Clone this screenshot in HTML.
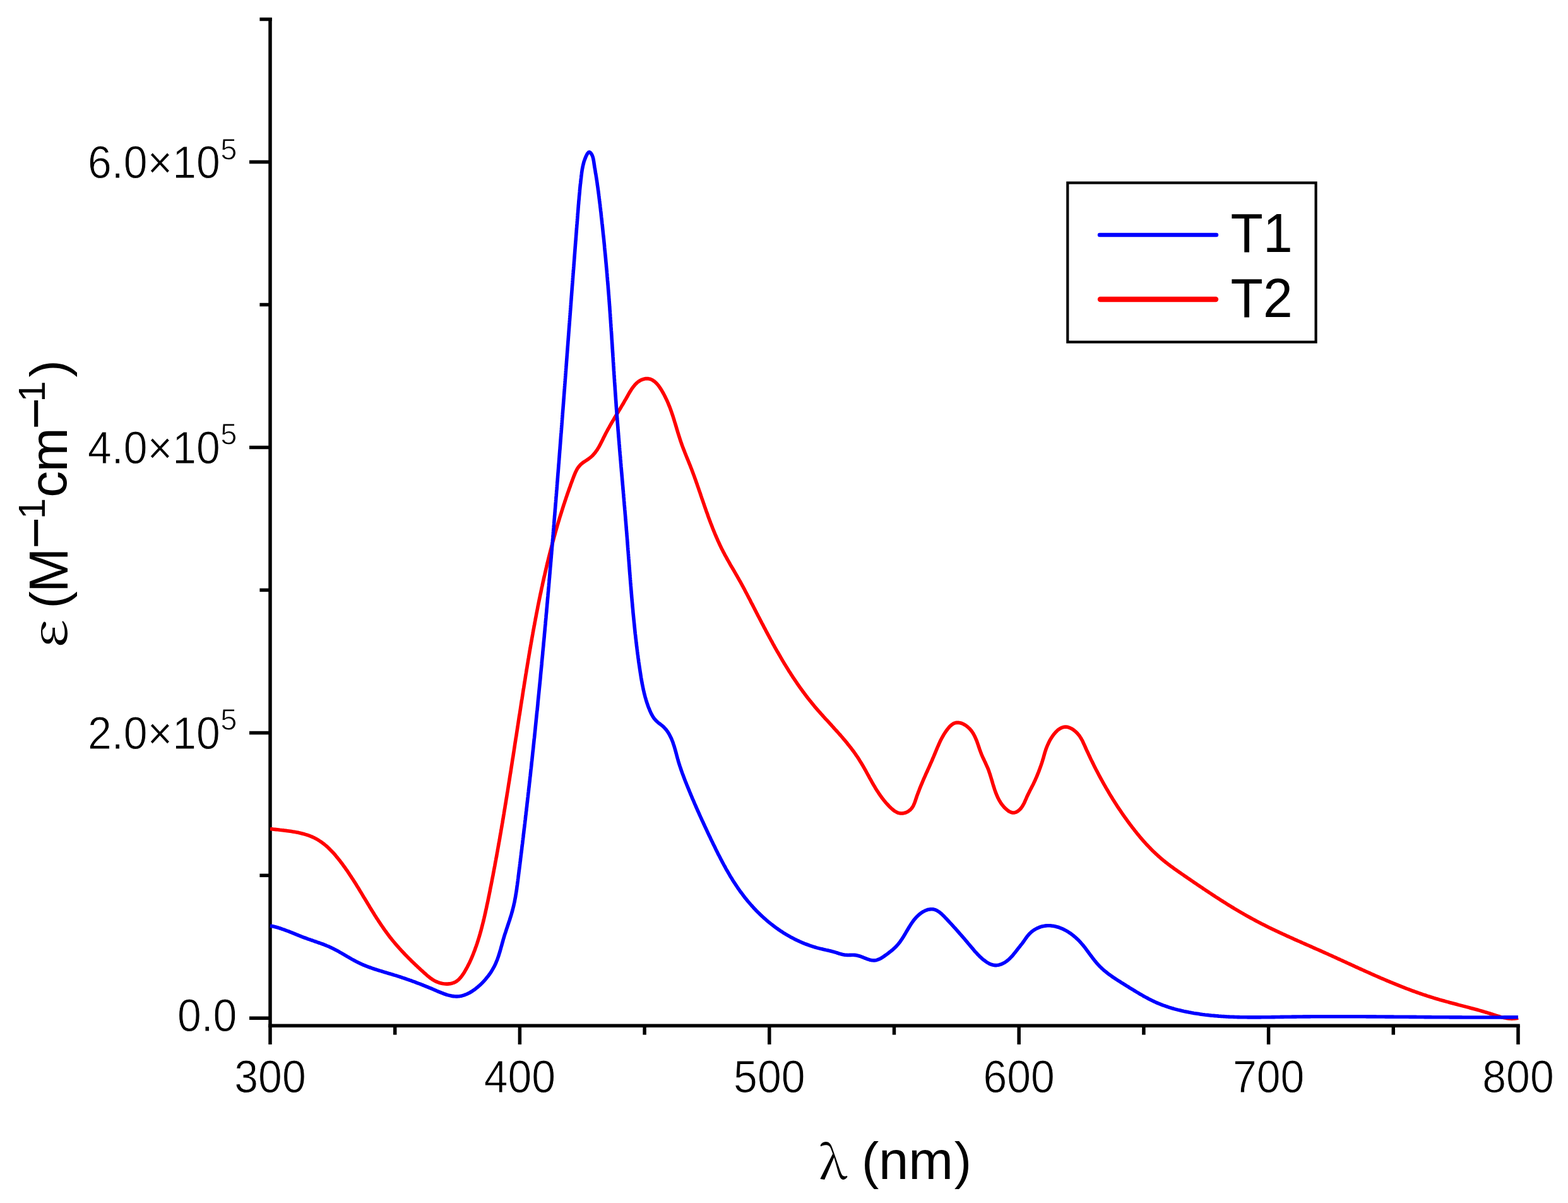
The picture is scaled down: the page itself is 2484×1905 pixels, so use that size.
<!DOCTYPE html>
<html><head><meta charset="utf-8"><style>
html,body{margin:0;padding:0;background:#fff;}
svg{display:block;}
</style></head><body>
<svg xmlns="http://www.w3.org/2000/svg" width="2484" height="1905" viewBox="0 0 2484 1905">
<rect width="2484" height="1905" fill="#fff"/>
<g font-family="Liberation Sans, Arial, sans-serif" fill="#000">
<line x1="428.0" y1="28.3" x2="428.0" y2="1627.0" stroke="#000" stroke-width="5.5"/>
<line x1="425.2" y1="1624.2" x2="2407.8" y2="1624.2" stroke="#000" stroke-width="5.5"/>
<line x1="395.0" y1="1612.3" x2="428.0" y2="1612.3" stroke="#000" stroke-width="5.5"/>
<line x1="411.4" y1="1386.3" x2="428.0" y2="1386.3" stroke="#000" stroke-width="5.5"/>
<line x1="395.0" y1="1160.4" x2="428.0" y2="1160.4" stroke="#000" stroke-width="5.5"/>
<line x1="411.4" y1="934.4" x2="428.0" y2="934.4" stroke="#000" stroke-width="5.5"/>
<line x1="395.0" y1="708.4" x2="428.0" y2="708.4" stroke="#000" stroke-width="5.5"/>
<line x1="411.4" y1="482.5" x2="428.0" y2="482.5" stroke="#000" stroke-width="5.5"/>
<line x1="395.0" y1="256.5" x2="428.0" y2="256.5" stroke="#000" stroke-width="5.5"/>
<line x1="411.4" y1="30.5" x2="430.8" y2="30.5" stroke="#000" stroke-width="5.5"/>
<line x1="428.0" y1="1624.2" x2="428.0" y2="1653.9" stroke="#000" stroke-width="5.5"/>
<line x1="625.7" y1="1624.2" x2="625.7" y2="1638.6" stroke="#000" stroke-width="5.5"/>
<line x1="823.4" y1="1624.2" x2="823.4" y2="1653.9" stroke="#000" stroke-width="5.5"/>
<line x1="1021.1" y1="1624.2" x2="1021.1" y2="1638.6" stroke="#000" stroke-width="5.5"/>
<line x1="1218.8" y1="1624.2" x2="1218.8" y2="1653.9" stroke="#000" stroke-width="5.5"/>
<line x1="1416.5" y1="1624.2" x2="1416.5" y2="1638.6" stroke="#000" stroke-width="5.5"/>
<line x1="1614.2" y1="1624.2" x2="1614.2" y2="1653.9" stroke="#000" stroke-width="5.5"/>
<line x1="1811.9" y1="1624.2" x2="1811.9" y2="1638.6" stroke="#000" stroke-width="5.5"/>
<line x1="2009.6" y1="1624.2" x2="2009.6" y2="1653.9" stroke="#000" stroke-width="5.5"/>
<line x1="2207.3" y1="1624.2" x2="2207.3" y2="1638.6" stroke="#000" stroke-width="5.5"/>
<line x1="2405.0" y1="1624.2" x2="2405.0" y2="1653.9" stroke="#000" stroke-width="5.5"/>
<path d="M428.0,1312.5 L429.9,1312.7 L431.8,1312.9 L433.7,1313.2 L435.6,1313.4 L437.5,1313.6 L439.5,1313.8 L441.5,1314.0 L443.4,1314.3 L445.4,1314.5 L447.4,1314.7 L449.5,1314.9 L451.5,1315.2 L453.5,1315.4 L455.5,1315.7 L457.6,1316.0 L459.6,1316.3 L461.6,1316.6 L463.7,1316.9 L465.7,1317.2 L467.7,1317.6 L469.7,1317.9 L471.8,1318.3 L473.8,1318.8 L475.8,1319.2 L477.7,1319.7 L479.7,1320.2 L481.7,1320.7 L483.6,1321.3 L485.5,1321.9 L487.5,1322.5 L489.3,1323.2 L491.2,1323.9 L493.1,1324.6 L494.9,1325.4 L496.7,1326.2 L498.5,1327.1 L500.2,1328.0 L501.9,1328.9 L503.6,1329.9 L505.3,1331.0 L506.9,1332.0 L508.5,1333.1 L510.1,1334.3 L511.7,1335.4 L513.3,1336.6 L514.8,1337.9 L516.3,1339.1 L517.8,1340.4 L519.3,1341.8 L520.7,1343.1 L522.1,1344.5 L523.5,1345.9 L524.9,1347.3 L526.3,1348.8 L527.7,1350.2 L529.0,1351.7 L530.3,1353.2 L531.6,1354.7 L532.9,1356.3 L534.2,1357.8 L535.5,1359.4 L536.7,1360.9 L538.0,1362.5 L539.2,1364.1 L540.4,1365.7 L541.6,1367.3 L542.8,1368.9 L544.0,1370.6 L545.2,1372.2 L546.4,1373.8 L547.5,1375.5 L548.7,1377.1 L549.8,1378.7 L551.0,1380.4 L552.1,1382.1 L553.2,1383.7 L554.3,1385.4 L555.4,1387.1 L556.5,1388.7 L557.6,1390.4 L558.7,1392.1 L559.8,1393.8 L560.9,1395.5 L561.9,1397.1 L563.0,1398.8 L564.1,1400.5 L565.1,1402.2 L566.2,1403.9 L567.2,1405.6 L568.3,1407.3 L569.3,1409.0 L570.3,1410.7 L571.4,1412.4 L572.4,1414.1 L573.5,1415.9 L574.5,1417.6 L575.5,1419.3 L576.5,1421.0 L577.6,1422.7 L578.6,1424.4 L579.6,1426.1 L580.7,1427.8 L581.7,1429.5 L582.7,1431.2 L583.8,1432.9 L584.8,1434.6 L585.8,1436.4 L586.9,1438.1 L587.9,1439.8 L588.9,1441.4 L590.0,1443.1 L591.0,1444.8 L592.1,1446.5 L593.1,1448.2 L594.2,1449.9 L595.3,1451.6 L596.3,1453.3 L597.4,1454.9 L598.5,1456.6 L599.6,1458.3 L600.7,1459.9 L601.8,1461.6 L602.9,1463.2 L604.0,1464.9 L605.1,1466.5 L606.3,1468.2 L607.4,1469.8 L608.5,1471.4 L609.7,1473.1 L610.9,1474.7 L612.0,1476.3 L613.2,1477.9 L614.4,1479.5 L615.6,1481.1 L616.8,1482.7 L618.0,1484.3 L619.3,1485.8 L620.5,1487.4 L621.8,1489.0 L623.0,1490.5 L624.3,1492.0 L625.6,1493.6 L626.9,1495.1 L628.2,1496.6 L629.5,1498.1 L630.9,1499.7 L632.2,1501.2 L633.5,1502.6 L634.9,1504.1 L636.3,1505.6 L637.6,1507.1 L639.0,1508.5 L640.4,1510.0 L641.8,1511.5 L643.2,1512.9 L644.6,1514.3 L646.0,1515.8 L647.4,1517.2 L648.8,1518.6 L650.3,1520.0 L651.7,1521.5 L653.1,1522.9 L654.6,1524.3 L656.0,1525.6 L657.5,1527.0 L658.9,1528.4 L660.4,1529.8 L661.8,1531.1 L663.3,1532.5 L664.8,1533.9 L666.2,1535.2 L667.7,1536.6 L669.2,1537.9 L670.6,1539.2 L672.1,1540.6 L673.6,1541.9 L675.1,1543.2 L676.5,1544.5 L678.0,1545.8 L679.6,1547.0 L681.1,1548.2 L682.7,1549.4 L684.3,1550.5 L685.9,1551.6 L687.6,1552.6 L689.3,1553.5 L691.1,1554.4 L693.0,1555.2 L694.9,1555.9 L696.8,1556.5 L698.9,1557.1 L700.9,1557.5 L703.0,1557.8 L705.1,1558.0 L707.2,1558.1 L709.3,1558.1 L711.4,1557.9 L713.4,1557.7 L715.4,1557.3 L717.3,1556.7 L719.1,1556.1 L720.8,1555.3 L722.5,1554.3 L724.0,1553.3 L725.5,1552.1 L727.0,1550.8 L728.3,1549.4 L729.6,1548.0 L730.8,1546.5 L732.0,1544.9 L733.2,1543.2 L734.3,1541.6 L735.4,1539.9 L736.4,1538.1 L737.4,1536.4 L738.4,1534.6 L739.4,1532.8 L740.4,1531.1 L741.3,1529.3 L742.2,1527.5 L743.1,1525.7 L744.0,1523.9 L744.8,1522.1 L745.7,1520.2 L746.5,1518.4 L747.3,1516.6 L748.1,1514.7 L748.8,1512.9 L749.6,1511.0 L750.3,1509.1 L751.0,1507.3 L751.8,1505.4 L752.5,1503.5 L753.1,1501.6 L753.8,1499.8 L754.5,1497.9 L755.1,1496.0 L755.8,1494.1 L756.4,1492.2 L757.0,1490.3 L757.6,1488.4 L758.2,1486.5 L758.8,1484.5 L759.4,1482.6 L759.9,1480.7 L760.5,1478.8 L761.0,1476.9 L761.6,1474.9 L762.1,1473.0 L762.6,1471.1 L763.1,1469.2 L763.6,1467.2 L764.1,1465.3 L764.6,1463.4 L765.1,1461.4 L765.6,1459.5 L766.1,1457.5 L766.5,1455.6 L767.0,1453.6 L767.4,1451.7 L767.9,1449.7 L768.3,1447.8 L768.8,1445.8 L769.2,1443.9 L769.6,1441.9 L770.1,1440.0 L770.5,1438.0 L770.9,1436.1 L771.3,1434.1 L771.7,1432.1 L772.2,1430.2 L772.6,1428.2 L773.0,1426.3 L773.4,1424.3 L773.8,1422.3 L774.2,1420.4 L774.6,1418.4 L775.0,1416.5 L775.4,1414.5 L775.8,1412.5 L776.2,1410.6 L776.5,1408.6 L776.9,1406.7 L777.3,1404.7 L777.7,1402.7 L778.1,1400.8 L778.5,1398.8 L778.9,1396.8 L779.3,1394.9 L779.6,1392.9 L780.0,1391.0 L780.4,1389.0 L780.8,1387.0 L781.2,1385.1 L781.5,1383.1 L781.9,1381.1 L782.3,1379.2 L782.6,1377.2 L783.0,1375.3 L783.4,1373.3 L783.8,1371.3 L784.1,1369.4 L784.5,1367.4 L784.8,1365.4 L785.2,1363.5 L785.6,1361.5 L785.9,1359.5 L786.3,1357.6 L786.7,1355.6 L787.0,1353.6 L787.4,1351.7 L787.7,1349.7 L788.1,1347.7 L788.4,1345.8 L788.8,1343.8 L789.1,1341.8 L789.5,1339.9 L789.8,1337.9 L790.2,1335.9 L790.5,1334.0 L790.9,1332.0 L791.2,1330.0 L791.6,1328.1 L791.9,1326.1 L792.2,1324.1 L792.6,1322.2 L792.9,1320.2 L793.3,1318.2 L793.6,1316.3 L793.9,1314.3 L794.3,1312.3 L794.6,1310.4 L795.0,1308.4 L795.3,1306.4 L795.6,1304.5 L796.0,1302.5 L796.3,1300.5 L796.6,1298.5 L797.0,1296.6 L797.3,1294.6 L797.6,1292.6 L797.9,1290.7 L798.3,1288.7 L798.6,1286.7 L798.9,1284.8 L799.2,1282.8 L799.6,1280.8 L799.9,1278.8 L800.2,1276.9 L800.5,1274.9 L800.9,1272.9 L801.2,1271.0 L801.5,1269.0 L801.8,1267.0 L802.1,1265.1 L802.5,1263.1 L802.8,1261.1 L803.1,1259.1 L803.4,1257.2 L803.7,1255.2 L804.1,1253.2 L804.4,1251.2 L804.7,1249.3 L805.0,1247.3 L805.3,1245.3 L805.6,1243.4 L805.9,1241.4 L806.3,1239.4 L806.6,1237.4 L806.9,1235.5 L807.2,1233.5 L807.5,1231.5 L807.8,1229.5 L808.1,1227.6 L808.4,1225.6 L808.8,1223.6 L809.1,1221.7 L809.4,1219.7 L809.7,1217.7 L810.0,1215.7 L810.3,1213.8 L810.6,1211.8 L810.9,1209.8 L811.2,1207.8 L811.5,1205.9 L811.8,1203.9 L812.1,1201.9 L812.5,1199.9 L812.8,1198.0 L813.1,1196.0 L813.4,1194.0 L813.7,1192.0 L814.0,1190.1 L814.3,1188.1 L814.6,1186.1 L814.9,1184.1 L815.2,1182.2 L815.5,1180.2 L815.8,1178.2 L816.1,1176.2 L816.4,1174.3 L816.7,1172.3 L817.0,1170.3 L817.3,1168.3 L817.7,1166.4 L818.0,1164.4 L818.3,1162.4 L818.6,1160.4 L818.9,1158.4 L819.2,1156.5 L819.5,1154.5 L819.8,1152.5 L820.1,1150.5 L820.4,1148.6 L820.7,1146.6 L821.0,1144.6 L821.3,1142.6 L821.6,1140.7 L821.9,1138.7 L822.2,1136.7 L822.5,1134.7 L822.8,1132.7 L823.2,1130.8 L823.5,1128.8 L823.8,1126.8 L824.1,1124.8 L824.4,1122.9 L824.7,1120.9 L825.0,1118.9 L825.3,1116.9 L825.6,1114.9 L825.9,1113.0 L826.2,1111.0 L826.5,1109.0 L826.9,1107.0 L827.2,1105.1 L827.5,1103.1 L827.8,1101.1 L828.1,1099.1 L828.4,1097.1 L828.7,1095.2 L829.0,1093.2 L829.3,1091.2 L829.7,1089.2 L830.0,1087.2 L830.3,1085.3 L830.6,1083.3 L830.9,1081.3 L831.2,1079.3 L831.6,1077.4 L831.9,1075.4 L832.2,1073.4 L832.5,1071.4 L832.8,1069.4 L833.1,1067.5 L833.5,1065.5 L833.8,1063.5 L834.1,1061.5 L834.4,1059.5 L834.8,1057.6 L835.1,1055.6 L835.4,1053.6 L835.7,1051.6 L836.1,1049.7 L836.4,1047.7 L836.7,1045.7 L837.0,1043.7 L837.4,1041.7 L837.7,1039.8 L838.0,1037.8 L838.4,1035.8 L838.7,1033.8 L839.0,1031.9 L839.4,1029.9 L839.7,1027.9 L840.1,1025.9 L840.4,1024.0 L840.7,1022.0 L841.1,1020.0 L841.4,1018.0 L841.8,1016.1 L842.1,1014.1 L842.5,1012.1 L842.8,1010.1 L843.2,1008.2 L843.5,1006.2 L843.9,1004.2 L844.2,1002.2 L844.6,1000.3 L844.9,998.3 L845.3,996.3 L845.7,994.4 L846.0,992.4 L846.4,990.4 L846.8,988.5 L847.1,986.5 L847.5,984.5 L847.9,982.5 L848.2,980.6 L848.6,978.6 L849.0,976.6 L849.4,974.7 L849.7,972.7 L850.1,970.7 L850.5,968.8 L850.9,966.8 L851.3,964.8 L851.7,962.9 L852.0,960.9 L852.4,959.0 L852.8,957.0 L853.2,955.0 L853.6,953.1 L854.0,951.1 L854.4,949.1 L854.8,947.2 L855.2,945.2 L855.6,943.3 L856.0,941.3 L856.5,939.3 L856.9,937.4 L857.3,935.4 L857.7,933.5 L858.1,931.5 L858.5,929.6 L859.0,927.6 L859.4,925.7 L859.8,923.7 L860.2,921.8 L860.7,919.8 L861.1,917.9 L861.5,915.9 L862.0,914.0 L862.4,912.0 L862.9,910.1 L863.3,908.1 L863.8,906.2 L864.2,904.2 L864.7,902.3 L865.1,900.3 L865.6,898.4 L866.0,896.4 L866.5,894.5 L867.0,892.5 L867.4,890.6 L867.9,888.7 L868.4,886.7 L868.9,884.8 L869.4,882.8 L869.8,880.9 L870.3,879.0 L870.8,877.0 L871.3,875.1 L871.8,873.2 L872.3,871.2 L872.8,869.3 L873.3,867.4 L873.8,865.4 L874.3,863.5 L874.8,861.6 L875.3,859.7 L875.8,857.7 L876.4,855.8 L876.9,853.9 L877.4,852.0 L877.9,850.0 L878.5,848.1 L879.0,846.2 L879.5,844.3 L880.1,842.3 L880.6,840.4 L881.2,838.5 L881.7,836.6 L882.3,834.7 L882.8,832.8 L883.4,830.8 L884.0,828.9 L884.5,827.0 L885.1,825.1 L885.7,823.2 L886.2,821.3 L886.8,819.4 L887.4,817.5 L888.0,815.6 L888.6,813.7 L889.2,811.8 L889.8,809.9 L890.4,808.0 L891.0,806.1 L891.6,804.2 L892.2,802.3 L892.8,800.4 L893.4,798.5 L894.1,796.6 L894.7,794.7 L895.3,792.8 L896.0,790.9 L896.6,789.0 L897.2,787.1 L897.9,785.2 L898.5,783.3 L899.2,781.5 L899.8,779.6 L900.5,777.7 L901.2,775.8 L901.8,773.9 L902.5,772.1 L903.2,770.2 L903.8,768.3 L904.5,766.4 L905.2,764.6 L905.9,762.7 L906.6,760.8 L907.3,758.9 L908.0,757.1 L908.7,755.2 L909.4,753.3 L910.2,751.5 L910.9,749.7 L911.7,747.8 L912.6,746.1 L913.5,744.3 L914.4,742.6 L915.5,740.9 L916.6,739.3 L917.9,737.8 L919.2,736.3 L920.7,734.9 L922.2,733.6 L923.9,732.4 L925.7,731.1 L927.4,730.0 L929.3,728.8 L931.0,727.6 L932.8,726.4 L934.4,725.1 L936.0,723.8 L937.5,722.5 L939.0,721.1 L940.3,719.6 L941.6,718.1 L942.9,716.6 L944.0,715.0 L945.2,713.4 L946.3,711.8 L947.3,710.1 L948.4,708.4 L949.4,706.6 L950.3,704.9 L951.3,703.1 L952.2,701.2 L953.2,699.4 L954.1,697.5 L955.0,695.7 L955.9,693.8 L956.8,692.0 L957.8,690.1 L958.7,688.3 L959.6,686.5 L960.5,684.8 L961.5,683.0 L962.4,681.2 L963.4,679.5 L964.3,677.8 L965.3,676.1 L966.2,674.4 L967.2,672.7 L968.2,671.0 L969.1,669.3 L970.1,667.7 L971.1,666.0 L972.1,664.4 L973.0,662.7 L974.0,661.1 L975.0,659.4 L976.0,657.8 L977.0,656.1 L978.0,654.5 L979.0,652.8 L980.0,651.1 L981.0,649.5 L982.1,647.8 L983.1,646.1 L984.1,644.4 L985.1,642.7 L986.1,641.0 L987.2,639.2 L988.2,637.5 L989.2,635.7 L990.2,633.9 L991.3,632.1 L992.3,630.3 L993.4,628.5 L994.4,626.6 L995.5,624.7 L996.5,622.9 L997.6,621.0 L998.7,619.2 L999.9,617.4 L1001.0,615.6 L1002.2,613.9 L1003.5,612.3 L1004.8,610.7 L1006.1,609.1 L1007.5,607.7 L1008.9,606.3 L1010.4,605.0 L1012.0,603.9 L1013.7,602.8 L1015.4,601.9 L1017.2,601.1 L1019.1,600.5 L1021.0,600.0 L1022.9,599.6 L1024.8,599.5 L1026.6,599.6 L1028.4,599.9 L1030.2,600.3 L1031.8,601.0 L1033.5,601.8 L1035.0,602.8 L1036.6,603.9 L1038.0,605.1 L1039.5,606.5 L1040.8,607.9 L1042.2,609.5 L1043.5,611.1 L1044.7,612.8 L1045.9,614.6 L1047.1,616.4 L1048.2,618.2 L1049.3,620.1 L1050.4,622.0 L1051.4,623.8 L1052.4,625.7 L1053.4,627.6 L1054.3,629.5 L1055.2,631.4 L1056.1,633.2 L1057.0,635.1 L1057.8,637.0 L1058.6,638.9 L1059.4,640.8 L1060.1,642.7 L1060.9,644.5 L1061.6,646.4 L1062.3,648.3 L1063.0,650.2 L1063.7,652.1 L1064.3,654.0 L1064.9,655.8 L1065.6,657.7 L1066.2,659.6 L1066.8,661.5 L1067.4,663.4 L1068.0,665.3 L1068.5,667.1 L1069.1,669.0 L1069.7,670.9 L1070.3,672.8 L1070.8,674.7 L1071.4,676.5 L1071.9,678.4 L1072.5,680.3 L1073.1,682.2 L1073.6,684.1 L1074.2,685.9 L1074.8,687.8 L1075.4,689.7 L1076.0,691.6 L1076.6,693.4 L1077.2,695.3 L1077.8,697.2 L1078.4,699.1 L1079.1,700.9 L1079.7,702.8 L1080.4,704.7 L1081.1,706.6 L1081.8,708.4 L1082.5,710.3 L1083.2,712.2 L1084.0,714.0 L1084.7,715.9 L1085.4,717.8 L1086.2,719.6 L1086.9,721.5 L1087.7,723.4 L1088.4,725.2 L1089.2,727.1 L1090.0,729.0 L1090.7,730.8 L1091.5,732.7 L1092.2,734.6 L1093.0,736.4 L1093.7,738.3 L1094.4,740.1 L1095.2,742.0 L1095.9,743.9 L1096.6,745.7 L1097.3,747.6 L1098.0,749.5 L1098.7,751.4 L1099.4,753.2 L1100.1,755.1 L1100.7,757.0 L1101.4,758.8 L1102.1,760.7 L1102.7,762.6 L1103.4,764.4 L1104.1,766.3 L1104.7,768.2 L1105.4,770.1 L1106.0,771.9 L1106.7,773.8 L1107.3,775.7 L1108.0,777.6 L1108.6,779.4 L1109.3,781.3 L1109.9,783.2 L1110.5,785.1 L1111.2,787.0 L1111.8,788.9 L1112.5,790.7 L1113.1,792.6 L1113.8,794.5 L1114.4,796.4 L1115.1,798.3 L1115.7,800.2 L1116.4,802.1 L1117.0,804.0 L1117.7,805.9 L1118.4,807.8 L1119.0,809.6 L1119.7,811.5 L1120.4,813.4 L1121.1,815.3 L1121.7,817.2 L1122.4,819.1 L1123.1,821.0 L1123.8,822.9 L1124.5,824.8 L1125.2,826.6 L1125.9,828.5 L1126.7,830.4 L1127.4,832.3 L1128.1,834.1 L1128.8,836.0 L1129.6,837.9 L1130.3,839.7 L1131.1,841.6 L1131.9,843.5 L1132.6,845.3 L1133.4,847.2 L1134.2,849.0 L1135.0,850.9 L1135.8,852.7 L1136.6,854.5 L1137.4,856.4 L1138.3,858.2 L1139.1,860.0 L1139.9,861.8 L1140.8,863.7 L1141.7,865.5 L1142.5,867.3 L1143.4,869.1 L1144.3,870.8 L1145.2,872.6 L1146.1,874.4 L1147.1,876.2 L1148.0,877.9 L1148.9,879.7 L1149.9,881.4 L1150.9,883.2 L1151.8,884.9 L1152.8,886.7 L1153.8,888.4 L1154.8,890.1 L1155.8,891.9 L1156.7,893.6 L1157.7,895.3 L1158.7,897.1 L1159.8,898.8 L1160.8,900.5 L1161.8,902.2 L1162.8,903.9 L1163.8,905.7 L1164.8,907.4 L1165.8,909.1 L1166.8,910.8 L1167.8,912.5 L1168.8,914.3 L1169.8,916.0 L1170.7,917.7 L1171.7,919.5 L1172.7,921.2 L1173.7,922.9 L1174.6,924.7 L1175.6,926.4 L1176.5,928.2 L1177.5,929.9 L1178.4,931.7 L1179.4,933.4 L1180.3,935.2 L1181.2,937.0 L1182.1,938.7 L1183.1,940.5 L1184.0,942.3 L1184.9,944.0 L1185.8,945.8 L1186.8,947.6 L1187.7,949.3 L1188.6,951.1 L1189.5,952.9 L1190.4,954.7 L1191.3,956.4 L1192.3,958.2 L1193.2,960.0 L1194.1,961.8 L1195.0,963.5 L1195.9,965.3 L1196.8,967.1 L1197.8,968.9 L1198.7,970.7 L1199.6,972.4 L1200.5,974.2 L1201.4,976.0 L1202.4,977.8 L1203.3,979.6 L1204.2,981.3 L1205.1,983.1 L1206.1,984.9 L1207.0,986.7 L1207.9,988.4 L1208.9,990.2 L1209.8,992.0 L1210.7,993.8 L1211.7,995.5 L1212.6,997.3 L1213.5,999.1 L1214.5,1000.9 L1215.4,1002.6 L1216.4,1004.4 L1217.3,1006.2 L1218.3,1007.9 L1219.2,1009.7 L1220.2,1011.5 L1221.1,1013.2 L1222.1,1015.0 L1223.1,1016.7 L1224.0,1018.5 L1225.0,1020.3 L1226.0,1022.0 L1226.9,1023.8 L1227.9,1025.5 L1228.9,1027.3 L1229.9,1029.0 L1230.9,1030.8 L1231.9,1032.5 L1232.9,1034.2 L1233.9,1036.0 L1234.9,1037.7 L1235.9,1039.4 L1236.9,1041.2 L1237.9,1042.9 L1238.9,1044.6 L1239.9,1046.3 L1241.0,1048.1 L1242.0,1049.8 L1243.0,1051.5 L1244.1,1053.2 L1245.1,1054.9 L1246.2,1056.6 L1247.2,1058.3 L1248.3,1060.0 L1249.3,1061.7 L1250.4,1063.4 L1251.5,1065.1 L1252.6,1066.8 L1253.6,1068.4 L1254.7,1070.1 L1255.8,1071.8 L1256.9,1073.4 L1258.0,1075.1 L1259.1,1076.8 L1260.3,1078.4 L1261.4,1080.1 L1262.5,1081.7 L1263.6,1083.4 L1264.8,1085.0 L1265.9,1086.6 L1267.1,1088.3 L1268.2,1089.9 L1269.4,1091.5 L1270.6,1093.1 L1271.7,1094.7 L1272.9,1096.3 L1274.1,1097.9 L1275.3,1099.5 L1276.5,1101.1 L1277.7,1102.7 L1278.9,1104.3 L1280.2,1105.9 L1281.4,1107.4 L1282.6,1109.0 L1283.9,1110.6 L1285.1,1112.1 L1286.4,1113.7 L1287.7,1115.2 L1288.9,1116.7 L1290.2,1118.3 L1291.5,1119.8 L1292.8,1121.3 L1294.1,1122.8 L1295.4,1124.3 L1296.7,1125.8 L1298.1,1127.3 L1299.4,1128.8 L1300.7,1130.3 L1302.1,1131.8 L1303.4,1133.3 L1304.7,1134.8 L1306.1,1136.3 L1307.4,1137.8 L1308.8,1139.3 L1310.1,1140.7 L1311.5,1142.2 L1312.8,1143.7 L1314.2,1145.2 L1315.5,1146.7 L1316.9,1148.1 L1318.2,1149.6 L1319.6,1151.1 L1320.9,1152.6 L1322.2,1154.1 L1323.6,1155.6 L1324.9,1157.0 L1326.3,1158.5 L1327.6,1160.0 L1328.9,1161.5 L1330.2,1163.0 L1331.6,1164.5 L1332.9,1166.0 L1334.2,1167.5 L1335.5,1169.1 L1336.8,1170.6 L1338.1,1172.1 L1339.4,1173.6 L1340.6,1175.2 L1341.9,1176.7 L1343.1,1178.3 L1344.4,1179.8 L1345.6,1181.4 L1346.9,1183.0 L1348.1,1184.5 L1349.3,1186.1 L1350.5,1187.7 L1351.7,1189.3 L1352.9,1190.9 L1354.0,1192.5 L1355.2,1194.2 L1356.3,1195.8 L1357.5,1197.5 L1358.6,1199.1 L1359.7,1200.8 L1360.8,1202.5 L1361.8,1204.2 L1362.9,1205.9 L1363.9,1207.6 L1365.0,1209.3 L1366.0,1211.0 L1367.0,1212.7 L1368.0,1214.5 L1369.0,1216.2 L1370.0,1218.0 L1371.0,1219.7 L1372.0,1221.5 L1372.9,1223.2 L1373.9,1225.0 L1374.9,1226.8 L1375.9,1228.5 L1376.8,1230.3 L1377.8,1232.1 L1378.8,1233.8 L1379.8,1235.6 L1380.7,1237.3 L1381.7,1239.1 L1382.7,1240.8 L1383.7,1242.6 L1384.7,1244.3 L1385.8,1246.0 L1386.8,1247.8 L1387.8,1249.5 L1388.9,1251.2 L1390.0,1252.9 L1391.1,1254.5 L1392.2,1256.2 L1393.3,1257.9 L1394.4,1259.5 L1395.6,1261.1 L1396.7,1262.7 L1397.9,1264.3 L1399.2,1265.9 L1400.4,1267.5 L1401.7,1269.0 L1402.9,1270.6 L1404.3,1272.1 L1405.6,1273.5 L1407.0,1275.0 L1408.4,1276.5 L1409.8,1277.9 L1411.2,1279.3 L1412.7,1280.7 L1414.3,1282.0 L1415.8,1283.2 L1417.4,1284.4 L1419.1,1285.4 L1420.8,1286.3 L1422.5,1287.1 L1424.4,1287.6 L1426.3,1287.9 L1428.2,1288.0 L1430.2,1287.9 L1432.1,1287.6 L1434.1,1287.0 L1436.0,1286.3 L1437.8,1285.4 L1439.6,1284.3 L1441.2,1283.1 L1442.7,1281.7 L1444.1,1280.2 L1445.2,1278.6 L1446.3,1277.0 L1447.2,1275.2 L1448.0,1273.4 L1448.8,1271.5 L1449.5,1269.6 L1450.2,1267.7 L1450.8,1265.7 L1451.5,1263.8 L1452.1,1261.9 L1452.8,1259.9 L1453.5,1258.0 L1454.2,1256.1 L1454.9,1254.2 L1455.7,1252.3 L1456.4,1250.4 L1457.1,1248.5 L1457.9,1246.7 L1458.6,1244.8 L1459.4,1242.9 L1460.2,1241.1 L1461.0,1239.2 L1461.7,1237.4 L1462.5,1235.6 L1463.3,1233.7 L1464.1,1231.9 L1464.9,1230.1 L1465.7,1228.3 L1466.5,1226.4 L1467.3,1224.6 L1468.2,1222.8 L1469.0,1221.0 L1469.8,1219.2 L1470.6,1217.4 L1471.4,1215.6 L1472.2,1213.8 L1473.0,1212.0 L1473.8,1210.2 L1474.6,1208.4 L1475.4,1206.6 L1476.2,1204.8 L1477.0,1203.0 L1477.7,1201.2 L1478.5,1199.4 L1479.3,1197.6 L1480.0,1195.8 L1480.8,1194.0 L1481.5,1192.2 L1482.3,1190.4 L1483.0,1188.6 L1483.8,1186.7 L1484.5,1184.9 L1485.3,1183.1 L1486.1,1181.3 L1486.9,1179.5 L1487.7,1177.7 L1488.5,1175.9 L1489.3,1174.1 L1490.2,1172.3 L1491.1,1170.5 L1492.1,1168.7 L1493.1,1166.9 L1494.1,1165.1 L1495.1,1163.3 L1496.3,1161.5 L1497.4,1159.8 L1498.6,1158.0 L1499.9,1156.2 L1501.2,1154.5 L1502.6,1152.8 L1504.0,1151.1 L1505.5,1149.6 L1507.1,1148.2 L1508.7,1147.0 L1510.3,1145.9 L1512.0,1145.2 L1513.8,1144.6 L1515.5,1144.4 L1517.4,1144.3 L1519.2,1144.4 L1521.0,1144.7 L1522.8,1145.2 L1524.6,1145.9 L1526.4,1146.7 L1528.2,1147.7 L1529.9,1148.8 L1531.6,1150.0 L1533.2,1151.3 L1534.7,1152.7 L1536.2,1154.1 L1537.5,1155.7 L1538.8,1157.2 L1540.0,1158.9 L1541.1,1160.5 L1542.2,1162.3 L1543.1,1164.0 L1544.1,1165.8 L1544.9,1167.6 L1545.7,1169.4 L1546.5,1171.3 L1547.3,1173.2 L1548.0,1175.1 L1548.6,1177.0 L1549.3,1178.9 L1550.0,1180.9 L1550.6,1182.8 L1551.3,1184.7 L1551.9,1186.6 L1552.6,1188.5 L1553.3,1190.4 L1554.0,1192.3 L1554.7,1194.1 L1555.5,1196.0 L1556.3,1197.8 L1557.1,1199.6 L1557.9,1201.4 L1558.8,1203.1 L1559.6,1204.9 L1560.5,1206.7 L1561.3,1208.5 L1562.1,1210.3 L1562.9,1212.1 L1563.7,1213.9 L1564.5,1215.7 L1565.3,1217.5 L1566.0,1219.4 L1566.7,1221.3 L1567.3,1223.2 L1568.0,1225.1 L1568.6,1227.1 L1569.2,1229.0 L1569.8,1231.0 L1570.4,1233.0 L1571.0,1234.9 L1571.6,1236.9 L1572.2,1238.9 L1572.7,1240.8 L1573.3,1242.8 L1573.9,1244.8 L1574.6,1246.7 L1575.2,1248.7 L1575.8,1250.6 L1576.5,1252.6 L1577.2,1254.5 L1577.9,1256.4 L1578.7,1258.3 L1579.4,1260.1 L1580.3,1261.9 L1581.1,1263.8 L1582.0,1265.5 L1583.0,1267.3 L1584.0,1269.0 L1585.0,1270.7 L1586.1,1272.4 L1587.3,1274.0 L1588.5,1275.5 L1589.8,1277.1 L1591.1,1278.6 L1592.6,1280.0 L1594.1,1281.4 L1595.6,1282.7 L1597.2,1284.0 L1598.9,1285.0 L1600.6,1285.9 L1602.4,1286.5 L1604.1,1286.9 L1605.9,1287.0 L1607.7,1286.7 L1609.5,1286.1 L1611.2,1285.3 L1612.9,1284.2 L1614.4,1282.9 L1615.9,1281.5 L1617.3,1280.0 L1618.5,1278.4 L1619.7,1276.7 L1620.7,1274.9 L1621.7,1273.1 L1622.7,1271.2 L1623.6,1269.3 L1624.4,1267.3 L1625.3,1265.4 L1626.1,1263.5 L1626.9,1261.6 L1627.8,1259.8 L1628.6,1258.0 L1629.5,1256.2 L1630.4,1254.4 L1631.2,1252.7 L1632.1,1251.0 L1633.0,1249.3 L1633.9,1247.6 L1634.7,1245.9 L1635.6,1244.2 L1636.5,1242.5 L1637.4,1240.7 L1638.2,1238.9 L1639.1,1237.1 L1639.9,1235.3 L1640.7,1233.4 L1641.6,1231.5 L1642.4,1229.6 L1643.2,1227.7 L1643.9,1225.8 L1644.7,1223.9 L1645.5,1222.0 L1646.2,1220.0 L1646.9,1218.1 L1647.6,1216.2 L1648.3,1214.3 L1649.0,1212.4 L1649.6,1210.5 L1650.3,1208.6 L1650.9,1206.7 L1651.5,1204.8 L1652.0,1203.0 L1652.6,1201.2 L1653.1,1199.4 L1653.6,1197.6 L1654.1,1195.9 L1654.6,1194.1 L1655.1,1192.4 L1655.6,1190.6 L1656.2,1188.8 L1656.8,1187.0 L1657.4,1185.2 L1658.1,1183.4 L1658.9,1181.5 L1659.7,1179.6 L1660.6,1177.7 L1661.5,1175.7 L1662.5,1173.7 L1663.6,1171.7 L1664.7,1169.8 L1665.9,1167.9 L1667.2,1166.0 L1668.5,1164.2 L1669.8,1162.4 L1671.2,1160.8 L1672.6,1159.2 L1674.1,1157.7 L1675.6,1156.3 L1677.2,1155.1 L1678.8,1154.0 L1680.4,1153.1 L1682.1,1152.3 L1683.8,1151.7 L1685.5,1151.3 L1687.2,1151.1 L1689.0,1151.1 L1690.8,1151.3 L1692.6,1151.8 L1694.4,1152.4 L1696.2,1153.2 L1698.0,1154.1 L1699.7,1155.2 L1701.4,1156.4 L1703.1,1157.8 L1704.7,1159.2 L1706.2,1160.7 L1707.6,1162.3 L1709.0,1164.0 L1710.3,1165.6 L1711.4,1167.4 L1712.5,1169.1 L1713.5,1170.9 L1714.5,1172.6 L1715.4,1174.4 L1716.2,1176.3 L1717.0,1178.1 L1717.9,1179.9 L1718.7,1181.7 L1719.5,1183.5 L1720.3,1185.4 L1721.1,1187.2 L1722.0,1189.0 L1722.8,1190.8 L1723.7,1192.6 L1724.5,1194.4 L1725.4,1196.2 L1726.2,1198.1 L1727.1,1199.9 L1727.9,1201.7 L1728.8,1203.5 L1729.7,1205.2 L1730.6,1207.0 L1731.4,1208.8 L1732.3,1210.6 L1733.2,1212.4 L1734.1,1214.2 L1735.0,1216.0 L1735.9,1217.8 L1736.8,1219.5 L1737.8,1221.3 L1738.7,1223.1 L1739.6,1224.8 L1740.5,1226.6 L1741.5,1228.4 L1742.4,1230.1 L1743.4,1231.9 L1744.3,1233.6 L1745.3,1235.4 L1746.3,1237.1 L1747.2,1238.9 L1748.2,1240.6 L1749.2,1242.4 L1750.2,1244.1 L1751.2,1245.8 L1752.2,1247.6 L1753.2,1249.3 L1754.2,1251.0 L1755.2,1252.7 L1756.2,1254.5 L1757.2,1256.2 L1758.2,1257.9 L1759.3,1259.6 L1760.3,1261.3 L1761.4,1263.0 L1762.4,1264.7 L1763.5,1266.4 L1764.5,1268.1 L1765.6,1269.8 L1766.7,1271.5 L1767.8,1273.1 L1768.8,1274.8 L1769.9,1276.5 L1771.0,1278.2 L1772.1,1279.8 L1773.2,1281.5 L1774.4,1283.1 L1775.5,1284.8 L1776.6,1286.4 L1777.7,1288.1 L1778.9,1289.7 L1780.0,1291.4 L1781.2,1293.0 L1782.3,1294.6 L1783.5,1296.3 L1784.7,1297.9 L1785.8,1299.5 L1787.0,1301.1 L1788.2,1302.7 L1789.4,1304.3 L1790.6,1306.0 L1791.8,1307.5 L1793.0,1309.1 L1794.2,1310.7 L1795.5,1312.3 L1796.7,1313.9 L1797.9,1315.5 L1799.2,1317.0 L1800.4,1318.6 L1801.7,1320.2 L1802.9,1321.7 L1804.2,1323.2 L1805.5,1324.8 L1806.8,1326.3 L1808.1,1327.8 L1809.4,1329.3 L1810.7,1330.9 L1812.0,1332.4 L1813.4,1333.8 L1814.7,1335.3 L1816.1,1336.8 L1817.4,1338.3 L1818.8,1339.7 L1820.2,1341.2 L1821.6,1342.6 L1822.9,1344.0 L1824.4,1345.5 L1825.8,1346.9 L1827.2,1348.3 L1828.6,1349.6 L1830.1,1351.0 L1831.5,1352.4 L1833.0,1353.7 L1834.5,1355.1 L1835.9,1356.4 L1837.4,1357.7 L1838.9,1359.0 L1840.5,1360.3 L1842.0,1361.6 L1843.5,1362.9 L1845.1,1364.1 L1846.6,1365.4 L1848.2,1366.6 L1849.8,1367.8 L1851.4,1369.1 L1853.0,1370.3 L1854.6,1371.5 L1856.2,1372.6 L1857.8,1373.8 L1859.4,1375.0 L1861.1,1376.2 L1862.7,1377.3 L1864.3,1378.5 L1866.0,1379.6 L1867.6,1380.8 L1869.3,1381.9 L1870.9,1383.0 L1872.6,1384.2 L1874.2,1385.3 L1875.9,1386.5 L1877.5,1387.6 L1879.2,1388.7 L1880.8,1389.9 L1882.5,1391.0 L1884.1,1392.1 L1885.8,1393.3 L1887.4,1394.4 L1889.1,1395.5 L1890.7,1396.7 L1892.4,1397.8 L1894.0,1398.9 L1895.7,1400.0 L1897.4,1401.2 L1899.0,1402.3 L1900.7,1403.4 L1902.3,1404.5 L1904.0,1405.6 L1905.6,1406.8 L1907.3,1407.9 L1909.0,1409.0 L1910.6,1410.1 L1912.3,1411.2 L1914.0,1412.3 L1915.6,1413.4 L1917.3,1414.5 L1919.0,1415.6 L1920.6,1416.7 L1922.3,1417.8 L1924.0,1418.9 L1925.6,1420.0 L1927.3,1421.1 L1929.0,1422.1 L1930.7,1423.2 L1932.3,1424.3 L1934.0,1425.4 L1935.7,1426.5 L1937.4,1427.5 L1939.1,1428.6 L1940.8,1429.7 L1942.5,1430.7 L1944.1,1431.8 L1945.8,1432.8 L1947.5,1433.9 L1949.2,1434.9 L1950.9,1436.0 L1952.6,1437.0 L1954.3,1438.0 L1956.0,1439.1 L1957.8,1440.1 L1959.5,1441.1 L1961.2,1442.1 L1962.9,1443.1 L1964.6,1444.1 L1966.3,1445.1 L1968.1,1446.1 L1969.8,1447.1 L1971.5,1448.1 L1973.3,1449.1 L1975.0,1450.1 L1976.7,1451.1 L1978.5,1452.0 L1980.2,1453.0 L1982.0,1454.0 L1983.7,1454.9 L1985.5,1455.9 L1987.2,1456.8 L1989.0,1457.8 L1990.7,1458.7 L1992.5,1459.6 L1994.3,1460.6 L1996.1,1461.5 L1997.8,1462.4 L1999.6,1463.3 L2001.4,1464.2 L2003.2,1465.1 L2005.0,1466.0 L2006.8,1466.9 L2008.5,1467.8 L2010.3,1468.7 L2012.1,1469.5 L2013.9,1470.4 L2015.7,1471.3 L2017.5,1472.2 L2019.4,1473.0 L2021.2,1473.9 L2023.0,1474.7 L2024.8,1475.6 L2026.6,1476.4 L2028.4,1477.3 L2030.2,1478.1 L2032.1,1479.0 L2033.9,1479.8 L2035.7,1480.6 L2037.5,1481.5 L2039.4,1482.3 L2041.2,1483.1 L2043.0,1484.0 L2044.8,1484.8 L2046.7,1485.6 L2048.5,1486.4 L2050.3,1487.3 L2052.2,1488.1 L2054.0,1488.9 L2055.8,1489.7 L2057.7,1490.5 L2059.5,1491.3 L2061.3,1492.1 L2063.2,1493.0 L2065.0,1493.8 L2066.9,1494.6 L2068.7,1495.4 L2070.5,1496.2 L2072.4,1497.0 L2074.2,1497.8 L2076.0,1498.6 L2077.9,1499.4 L2079.7,1500.2 L2081.6,1501.1 L2083.4,1501.9 L2085.2,1502.7 L2087.1,1503.5 L2088.9,1504.3 L2090.7,1505.1 L2092.6,1505.9 L2094.4,1506.7 L2096.2,1507.6 L2098.1,1508.4 L2099.9,1509.2 L2101.7,1510.0 L2103.5,1510.8 L2105.4,1511.7 L2107.2,1512.5 L2109.0,1513.3 L2110.8,1514.1 L2112.7,1515.0 L2114.5,1515.8 L2116.3,1516.6 L2118.1,1517.5 L2120.0,1518.3 L2121.8,1519.1 L2123.6,1520.0 L2125.4,1520.8 L2127.2,1521.6 L2129.1,1522.5 L2130.9,1523.3 L2132.7,1524.1 L2134.5,1525.0 L2136.3,1525.8 L2138.1,1526.6 L2140.0,1527.4 L2141.8,1528.3 L2143.6,1529.1 L2145.4,1529.9 L2147.2,1530.8 L2149.1,1531.6 L2150.9,1532.4 L2152.7,1533.3 L2154.5,1534.1 L2156.3,1534.9 L2158.1,1535.7 L2160.0,1536.5 L2161.8,1537.4 L2163.6,1538.2 L2165.4,1539.0 L2167.2,1539.8 L2169.1,1540.6 L2170.9,1541.4 L2172.7,1542.3 L2174.5,1543.1 L2176.4,1543.9 L2178.2,1544.7 L2180.0,1545.5 L2181.8,1546.3 L2183.7,1547.1 L2185.5,1547.9 L2187.3,1548.7 L2189.1,1549.5 L2191.0,1550.2 L2192.8,1551.0 L2194.6,1551.8 L2196.5,1552.6 L2198.3,1553.4 L2200.1,1554.1 L2202.0,1554.9 L2203.8,1555.7 L2205.7,1556.4 L2207.5,1557.2 L2209.3,1557.9 L2211.2,1558.7 L2213.0,1559.4 L2214.9,1560.2 L2216.7,1560.9 L2218.6,1561.7 L2220.4,1562.4 L2222.3,1563.1 L2224.2,1563.8 L2226.0,1564.6 L2227.9,1565.3 L2229.7,1566.0 L2231.6,1566.7 L2233.5,1567.4 L2235.3,1568.1 L2237.2,1568.8 L2239.1,1569.5 L2241.0,1570.2 L2242.8,1570.8 L2244.7,1571.5 L2246.6,1572.2 L2248.5,1572.8 L2250.4,1573.5 L2252.3,1574.1 L2254.2,1574.8 L2256.0,1575.4 L2257.9,1576.0 L2259.8,1576.7 L2261.7,1577.3 L2263.6,1577.9 L2265.6,1578.5 L2267.5,1579.1 L2269.4,1579.7 L2271.3,1580.3 L2273.2,1580.9 L2275.1,1581.5 L2277.1,1582.0 L2279.0,1582.6 L2280.9,1583.2 L2282.9,1583.7 L2284.8,1584.3 L2286.7,1584.8 L2288.7,1585.3 L2290.6,1585.9 L2292.5,1586.4 L2294.5,1586.9 L2296.4,1587.5 L2298.4,1588.0 L2300.3,1588.5 L2302.3,1589.0 L2304.2,1589.5 L2306.2,1590.0 L2308.1,1590.5 L2310.1,1591.1 L2312.0,1591.6 L2314.0,1592.1 L2315.9,1592.6 L2317.9,1593.1 L2319.8,1593.6 L2321.8,1594.1 L2323.7,1594.6 L2325.7,1595.1 L2327.6,1595.6 L2329.6,1596.2 L2331.5,1596.7 L2333.5,1597.2 L2335.4,1597.7 L2337.3,1598.3 L2339.3,1598.8 L2341.2,1599.3 L2343.2,1599.9 L2345.1,1600.4 L2347.0,1601.0 L2348.9,1601.5 L2350.9,1602.1 L2352.8,1602.7 L2354.7,1603.2 L2356.6,1603.8 L2358.5,1604.4 L2360.4,1605.0 L2362.3,1605.6 L2364.2,1606.2 L2366.1,1606.8 L2368.0,1607.4 L2369.9,1608.1 L2371.8,1608.7 L2373.7,1609.3 L2375.6,1609.8 L2377.5,1610.4 L2379.4,1610.9 L2381.3,1611.3 L2383.2,1611.8 L2385.2,1612.1 L2387.1,1612.4 L2389.0,1612.7 L2391.0,1612.9 L2393.0,1613.0 L2395.0,1613.1 L2397.0,1613.0 L2399.0,1612.9 L2401.0,1612.7 L2403.1,1612.4 L2405.2,1612.0" fill="none" stroke="#ff0000" stroke-width="5.6" stroke-linejoin="round"/>
<path d="M428.0,1466.0 L430.0,1466.4 L432.0,1466.8 L433.9,1467.3 L435.9,1467.8 L437.8,1468.3 L439.7,1468.8 L441.7,1469.4 L443.6,1470.0 L445.5,1470.6 L447.4,1471.3 L449.2,1471.9 L451.1,1472.6 L453.0,1473.3 L454.8,1474.0 L456.7,1474.7 L458.6,1475.4 L460.4,1476.2 L462.3,1476.9 L464.1,1477.6 L466.0,1478.4 L467.8,1479.1 L469.6,1479.9 L471.5,1480.6 L473.3,1481.4 L475.2,1482.1 L477.1,1482.9 L478.9,1483.6 L480.8,1484.3 L482.7,1485.0 L484.6,1485.7 L486.4,1486.4 L488.3,1487.1 L490.2,1487.7 L492.1,1488.4 L494.0,1489.0 L495.9,1489.7 L497.8,1490.3 L499.7,1491.0 L501.6,1491.7 L503.5,1492.3 L505.4,1493.0 L507.3,1493.7 L509.2,1494.3 L511.1,1495.0 L512.9,1495.7 L514.8,1496.5 L516.7,1497.2 L518.5,1498.0 L520.3,1498.7 L522.2,1499.5 L524.0,1500.4 L525.8,1501.2 L527.5,1502.1 L529.3,1503.0 L531.1,1503.9 L532.8,1504.8 L534.6,1505.7 L536.3,1506.7 L538.0,1507.7 L539.7,1508.6 L541.5,1509.6 L543.2,1510.6 L544.9,1511.6 L546.6,1512.6 L548.3,1513.6 L550.0,1514.6 L551.8,1515.6 L553.5,1516.6 L555.2,1517.6 L556.9,1518.6 L558.7,1519.6 L560.4,1520.5 L562.2,1521.5 L563.9,1522.4 L565.7,1523.3 L567.5,1524.2 L569.3,1525.1 L571.1,1525.9 L572.9,1526.8 L574.7,1527.6 L576.6,1528.4 L578.4,1529.1 L580.3,1529.9 L582.2,1530.6 L584.1,1531.3 L586.0,1532.0 L587.9,1532.7 L589.8,1533.4 L591.7,1534.0 L593.6,1534.7 L595.6,1535.3 L597.5,1535.9 L599.4,1536.5 L601.4,1537.1 L603.3,1537.7 L605.3,1538.3 L607.2,1538.9 L609.2,1539.5 L611.1,1540.0 L613.0,1540.6 L615.0,1541.2 L616.9,1541.8 L618.8,1542.3 L620.7,1542.9 L622.7,1543.5 L624.6,1544.1 L626.5,1544.6 L628.4,1545.2 L630.2,1545.8 L632.1,1546.4 L634.0,1547.0 L635.9,1547.6 L637.7,1548.3 L639.6,1548.9 L641.4,1549.5 L643.3,1550.1 L645.1,1550.8 L647.0,1551.4 L648.8,1552.1 L650.7,1552.7 L652.5,1553.4 L654.3,1554.1 L656.2,1554.7 L658.0,1555.4 L659.8,1556.1 L661.7,1556.8 L663.5,1557.5 L665.4,1558.2 L667.2,1558.9 L669.1,1559.6 L670.9,1560.4 L672.8,1561.1 L674.6,1561.9 L676.5,1562.6 L678.4,1563.4 L680.2,1564.2 L682.1,1564.9 L684.0,1565.7 L685.9,1566.5 L687.8,1567.3 L689.7,1568.2 L691.6,1569.0 L693.6,1569.8 L695.5,1570.6 L697.4,1571.4 L699.4,1572.2 L701.3,1572.9 L703.2,1573.7 L705.2,1574.3 L707.1,1575.0 L709.0,1575.6 L711.0,1576.1 L712.9,1576.6 L714.8,1577.0 L716.7,1577.4 L718.6,1577.6 L720.5,1577.8 L722.4,1577.9 L724.3,1577.9 L726.2,1577.8 L728.0,1577.6 L729.8,1577.3 L731.7,1576.9 L733.5,1576.4 L735.3,1575.9 L737.0,1575.2 L738.8,1574.5 L740.5,1573.7 L742.3,1572.9 L744.0,1572.0 L745.7,1571.0 L747.4,1570.0 L749.0,1568.9 L750.7,1567.7 L752.3,1566.6 L753.9,1565.3 L755.5,1564.1 L757.0,1562.8 L758.6,1561.4 L760.1,1560.1 L761.6,1558.7 L763.1,1557.3 L764.5,1555.8 L765.9,1554.3 L767.3,1552.8 L768.7,1551.3 L770.0,1549.7 L771.3,1548.1 L772.6,1546.5 L773.9,1544.9 L775.1,1543.2 L776.3,1541.6 L777.4,1539.9 L778.5,1538.2 L779.6,1536.4 L780.6,1534.7 L781.6,1532.9 L782.6,1531.2 L783.5,1529.4 L784.4,1527.6 L785.2,1525.8 L786.0,1523.9 L786.7,1522.1 L787.5,1520.3 L788.2,1518.4 L788.8,1516.6 L789.5,1514.7 L790.1,1512.8 L790.7,1510.9 L791.3,1509.0 L791.9,1507.2 L792.4,1505.3 L793.0,1503.3 L793.5,1501.4 L794.0,1499.5 L794.6,1497.6 L795.1,1495.7 L795.6,1493.8 L796.2,1491.9 L796.7,1490.0 L797.2,1488.0 L797.8,1486.1 L798.4,1484.2 L798.9,1482.3 L799.5,1480.4 L800.1,1478.5 L800.8,1476.6 L801.4,1474.7 L802.0,1472.8 L802.6,1470.9 L803.3,1469.0 L803.9,1467.1 L804.5,1465.2 L805.2,1463.3 L805.8,1461.4 L806.4,1459.5 L807.1,1457.6 L807.7,1455.6 L808.3,1453.7 L808.9,1451.8 L809.5,1449.9 L810.1,1448.0 L810.6,1446.1 L811.2,1444.2 L811.7,1442.2 L812.2,1440.3 L812.7,1438.4 L813.2,1436.4 L813.7,1434.5 L814.1,1432.5 L814.5,1430.6 L815.0,1428.6 L815.4,1426.7 L815.7,1424.7 L816.1,1422.8 L816.5,1420.8 L816.8,1418.8 L817.1,1416.9 L817.5,1414.9 L817.8,1412.9 L818.1,1411.0 L818.4,1409.0 L818.7,1407.0 L818.9,1405.0 L819.2,1403.0 L819.5,1401.1 L819.7,1399.1 L820.0,1397.1 L820.3,1395.1 L820.5,1393.1 L820.8,1391.1 L821.0,1389.2 L821.3,1387.2 L821.5,1385.2 L821.8,1383.2 L822.0,1381.2 L822.3,1379.2 L822.5,1377.2 L822.8,1375.3 L823.0,1373.3 L823.3,1371.3 L823.5,1369.3 L823.8,1367.3 L824.0,1365.3 L824.3,1363.4 L824.5,1361.4 L824.7,1359.4 L825.0,1357.4 L825.2,1355.4 L825.5,1353.4 L825.7,1351.4 L826.0,1349.5 L826.2,1347.5 L826.5,1345.5 L826.7,1343.5 L826.9,1341.5 L827.2,1339.5 L827.4,1337.5 L827.7,1335.6 L827.9,1333.6 L828.1,1331.6 L828.4,1329.6 L828.6,1327.6 L828.9,1325.6 L829.1,1323.6 L829.3,1321.7 L829.6,1319.7 L829.8,1317.7 L830.0,1315.7 L830.3,1313.7 L830.5,1311.7 L830.8,1309.7 L831.0,1307.7 L831.2,1305.8 L831.5,1303.8 L831.7,1301.8 L831.9,1299.8 L832.2,1297.8 L832.4,1295.8 L832.6,1293.8 L832.8,1291.9 L833.1,1289.9 L833.3,1287.9 L833.5,1285.9 L833.8,1283.9 L834.0,1281.9 L834.2,1279.9 L834.5,1278.0 L834.7,1276.0 L834.9,1274.0 L835.1,1272.0 L835.4,1270.0 L835.6,1268.0 L835.8,1266.0 L836.0,1264.0 L836.3,1262.1 L836.5,1260.1 L836.7,1258.1 L836.9,1256.1 L837.2,1254.1 L837.4,1252.1 L837.6,1250.1 L837.8,1248.1 L838.1,1246.2 L838.3,1244.2 L838.5,1242.2 L838.7,1240.2 L839.0,1238.2 L839.2,1236.2 L839.4,1234.2 L839.6,1232.2 L839.8,1230.3 L840.1,1228.3 L840.3,1226.3 L840.5,1224.3 L840.7,1222.3 L840.9,1220.3 L841.1,1218.3 L841.4,1216.3 L841.6,1214.4 L841.8,1212.4 L842.0,1210.4 L842.2,1208.4 L842.4,1206.4 L842.7,1204.4 L842.9,1202.4 L843.1,1200.4 L843.3,1198.4 L843.5,1196.5 L843.7,1194.5 L843.9,1192.5 L844.1,1190.5 L844.4,1188.5 L844.6,1186.5 L844.8,1184.5 L845.0,1182.5 L845.2,1180.5 L845.4,1178.6 L845.6,1176.6 L845.8,1174.6 L846.0,1172.6 L846.2,1170.6 L846.5,1168.6 L846.7,1166.6 L846.9,1164.6 L847.1,1162.6 L847.3,1160.7 L847.5,1158.7 L847.7,1156.7 L847.9,1154.7 L848.1,1152.7 L848.3,1150.7 L848.5,1148.7 L848.7,1146.7 L848.9,1144.7 L849.1,1142.8 L849.3,1140.8 L849.5,1138.8 L849.7,1136.8 L849.9,1134.8 L850.1,1132.8 L850.3,1130.8 L850.5,1128.8 L850.7,1126.8 L851.0,1124.9 L851.2,1122.9 L851.4,1120.9 L851.6,1118.9 L851.8,1116.9 L852.0,1114.9 L852.1,1112.9 L852.3,1110.9 L852.5,1108.9 L852.7,1106.9 L852.9,1105.0 L853.1,1103.0 L853.3,1101.0 L853.5,1099.0 L853.7,1097.0 L853.9,1095.0 L854.1,1093.0 L854.3,1091.0 L854.5,1089.0 L854.7,1087.0 L854.9,1085.1 L855.1,1083.1 L855.3,1081.1 L855.5,1079.1 L855.7,1077.1 L855.9,1075.1 L856.1,1073.1 L856.3,1071.1 L856.4,1069.1 L856.6,1067.1 L856.8,1065.1 L857.0,1063.2 L857.2,1061.2 L857.4,1059.2 L857.6,1057.2 L857.8,1055.2 L858.0,1053.2 L858.2,1051.2 L858.3,1049.2 L858.5,1047.2 L858.7,1045.2 L858.9,1043.2 L859.1,1041.3 L859.3,1039.3 L859.5,1037.3 L859.7,1035.3 L859.8,1033.3 L860.0,1031.3 L860.2,1029.3 L860.4,1027.3 L860.6,1025.3 L860.8,1023.3 L861.0,1021.3 L861.1,1019.4 L861.3,1017.4 L861.5,1015.4 L861.7,1013.4 L861.9,1011.4 L862.1,1009.4 L862.3,1007.4 L862.4,1005.4 L862.6,1003.4 L862.8,1001.4 L863.0,999.4 L863.2,997.4 L863.3,995.5 L863.5,993.5 L863.7,991.5 L863.9,989.5 L864.1,987.5 L864.2,985.5 L864.4,983.5 L864.6,981.5 L864.8,979.5 L865.0,977.5 L865.1,975.5 L865.3,973.5 L865.5,971.5 L865.7,969.6 L865.9,967.6 L866.0,965.6 L866.2,963.6 L866.4,961.6 L866.6,959.6 L866.7,957.6 L866.9,955.6 L867.1,953.6 L867.3,951.6 L867.4,949.6 L867.6,947.6 L867.8,945.6 L868.0,943.7 L868.1,941.7 L868.3,939.7 L868.5,937.7 L868.7,935.7 L868.8,933.7 L869.0,931.7 L869.2,929.7 L869.4,927.7 L869.5,925.7 L869.7,923.7 L869.9,921.7 L870.0,919.7 L870.2,917.7 L870.4,915.8 L870.6,913.8 L870.7,911.8 L870.9,909.8 L871.1,907.8 L871.2,905.8 L871.4,903.8 L871.6,901.8 L871.7,899.8 L871.9,897.8 L872.1,895.8 L872.3,893.8 L872.4,891.8 L872.6,889.8 L872.8,887.9 L872.9,885.9 L873.1,883.9 L873.3,881.9 L873.4,879.9 L873.6,877.9 L873.8,875.9 L873.9,873.9 L874.1,871.9 L874.3,869.9 L874.4,867.9 L874.6,865.9 L874.8,863.9 L874.9,861.9 L875.1,859.9 L875.3,858.0 L875.4,856.0 L875.6,854.0 L875.8,852.0 L875.9,850.0 L876.1,848.0 L876.3,846.0 L876.4,844.0 L876.6,842.0 L876.7,840.0 L876.9,838.0 L877.1,836.0 L877.2,834.0 L877.4,832.0 L877.6,830.0 L877.7,828.0 L877.9,826.1 L878.0,824.1 L878.2,822.1 L878.4,820.1 L878.5,818.1 L878.7,816.1 L878.9,814.1 L879.0,812.1 L879.2,810.1 L879.3,808.1 L879.5,806.1 L879.7,804.1 L879.8,802.1 L880.0,800.1 L880.1,798.1 L880.3,796.1 L880.5,794.2 L880.6,792.2 L880.8,790.2 L880.9,788.2 L881.1,786.2 L881.3,784.2 L881.4,782.2 L881.6,780.2 L881.7,778.2 L881.9,776.2 L882.1,774.2 L882.2,772.2 L882.4,770.2 L882.5,768.2 L882.7,766.2 L882.8,764.2 L883.0,762.2 L883.2,760.3 L883.3,758.3 L883.5,756.3 L883.6,754.3 L883.8,752.3 L883.9,750.3 L884.1,748.3 L884.3,746.3 L884.4,744.3 L884.6,742.3 L884.7,740.3 L884.9,738.3 L885.0,736.3 L885.2,734.3 L885.4,732.3 L885.5,730.3 L885.7,728.3 L885.8,726.3 L886.0,724.4 L886.1,722.4 L886.3,720.4 L886.4,718.4 L886.6,716.4 L886.7,714.4 L886.9,712.4 L887.1,710.4 L887.2,708.4 L887.4,706.4 L887.5,704.4 L887.7,702.4 L887.8,700.4 L888.0,698.4 L888.1,696.4 L888.3,694.4 L888.4,692.4 L888.6,690.4 L888.7,688.5 L888.9,686.5 L889.1,684.5 L889.2,682.5 L889.4,680.5 L889.5,678.5 L889.7,676.5 L889.8,674.5 L890.0,672.5 L890.1,670.5 L890.3,668.5 L890.4,666.5 L890.6,664.5 L890.7,662.5 L890.9,660.5 L891.0,658.5 L891.2,656.5 L891.3,654.5 L891.5,652.6 L891.6,650.6 L891.8,648.6 L892.0,646.6 L892.1,644.6 L892.3,642.6 L892.4,640.6 L892.6,638.6 L892.7,636.6 L892.9,634.6 L893.0,632.6 L893.2,630.6 L893.3,628.6 L893.5,626.6 L893.6,624.6 L893.8,622.6 L893.9,620.6 L894.1,618.6 L894.2,616.7 L894.4,614.7 L894.5,612.7 L894.7,610.7 L894.8,608.7 L895.0,606.7 L895.1,604.7 L895.3,602.7 L895.4,600.7 L895.6,598.7 L895.7,596.7 L895.9,594.7 L896.0,592.7 L896.2,590.7 L896.3,588.7 L896.5,586.7 L896.6,584.7 L896.8,582.7 L896.9,580.8 L897.1,578.8 L897.2,576.8 L897.4,574.8 L897.5,572.8 L897.7,570.8 L897.8,568.8 L898.0,566.8 L898.1,564.8 L898.3,562.8 L898.4,560.8 L898.6,558.8 L898.7,556.8 L898.9,554.8 L899.0,552.8 L899.2,550.8 L899.3,548.8 L899.5,546.9 L899.6,544.9 L899.8,542.9 L899.9,540.9 L900.1,538.9 L900.2,536.9 L900.4,534.9 L900.5,532.9 L900.7,530.9 L900.8,528.9 L901.0,526.9 L901.1,524.9 L901.3,522.9 L901.4,520.9 L901.6,518.9 L901.7,516.9 L901.9,514.9 L902.0,513.0 L902.2,511.0 L902.3,509.0 L902.5,507.0 L902.6,505.0 L902.8,503.0 L902.9,501.0 L903.1,499.0 L903.2,497.0 L903.4,495.0 L903.5,493.0 L903.7,491.0 L903.8,489.0 L904.0,487.0 L904.1,485.0 L904.3,483.0 L904.4,481.0 L904.6,479.1 L904.7,477.1 L904.9,475.1 L905.0,473.1 L905.2,471.1 L905.3,469.1 L905.5,467.1 L905.6,465.1 L905.8,463.1 L905.9,461.1 L906.1,459.1 L906.2,457.1 L906.4,455.1 L906.5,453.1 L906.7,451.1 L906.8,449.2 L907.0,447.2 L907.1,445.2 L907.3,443.2 L907.4,441.2 L907.6,439.2 L907.7,437.2 L907.9,435.2 L908.0,433.2 L908.2,431.2 L908.3,429.2 L908.5,427.2 L908.7,425.2 L908.8,423.2 L909.0,421.2 L909.1,419.2 L909.3,417.3 L909.4,415.3 L909.6,413.3 L909.7,411.3 L909.9,409.3 L910.0,407.3 L910.2,405.3 L910.3,403.3 L910.5,401.3 L910.6,399.3 L910.8,397.3 L910.9,395.3 L911.1,393.3 L911.2,391.3 L911.4,389.4 L911.5,387.4 L911.7,385.4 L911.8,383.4 L912.0,381.4 L912.2,379.4 L912.3,377.4 L912.5,375.4 L912.6,373.4 L912.8,371.4 L912.9,369.4 L913.1,367.4 L913.2,365.4 L913.4,363.4 L913.5,361.5 L913.7,359.5 L913.8,357.5 L914.0,355.5 L914.2,353.5 L914.3,351.5 L914.5,349.5 L914.6,347.5 L914.8,345.5 L914.9,343.5 L915.1,341.5 L915.2,339.5 L915.4,337.5 L915.6,335.6 L915.7,333.6 L915.9,331.6 L916.0,329.6 L916.2,327.6 L916.3,325.6 L916.5,323.6 L916.7,321.6 L916.8,319.6 L917.0,317.6 L917.2,315.6 L917.4,313.6 L917.5,311.7 L917.7,309.7 L917.9,307.7 L918.1,305.7 L918.3,303.7 L918.4,301.7 L918.6,299.7 L918.8,297.7 L919.0,295.7 L919.2,293.7 L919.4,291.8 L919.7,289.8 L919.9,287.8 L920.1,285.8 L920.3,283.8 L920.6,281.8 L920.8,279.8 L921.0,277.8 L921.3,275.8 L921.5,273.9 L921.8,271.9 L922.1,269.9 L922.4,267.9 L922.8,265.9 L923.2,263.9 L923.6,262.0 L924.1,260.0 L924.6,258.0 L925.1,256.0 L925.8,254.1 L926.5,252.1 L927.3,250.1 L928.1,248.2 L929.0,246.2 L930.0,244.3 L931.1,242.6 L932.3,241.3 L933.6,240.9 L934.9,241.4 L936.2,242.7 L937.4,244.5 L938.4,246.6 L939.1,248.6 L939.7,250.7 L940.1,252.8 L940.5,254.9 L940.8,256.9 L941.1,259.0 L941.4,261.0 L941.7,263.0 L942.0,265.0 L942.4,267.0 L942.7,268.9 L943.0,270.8 L943.3,272.8 L943.6,274.7 L944.0,276.6 L944.3,278.6 L944.6,280.5 L944.9,282.4 L945.2,284.4 L945.5,286.3 L945.8,288.3 L946.1,290.2 L946.3,292.2 L946.6,294.1 L946.9,296.1 L947.2,298.1 L947.4,300.0 L947.7,302.0 L948.0,304.0 L948.2,306.0 L948.5,307.9 L948.7,309.9 L949.0,311.9 L949.2,313.9 L949.5,315.9 L949.7,317.9 L950.0,319.9 L950.2,321.9 L950.5,323.8 L950.7,325.8 L950.9,327.8 L951.2,329.8 L951.4,331.8 L951.6,333.8 L951.9,335.8 L952.1,337.8 L952.3,339.8 L952.5,341.8 L952.7,343.8 L953.0,345.8 L953.2,347.8 L953.4,349.8 L953.6,351.8 L953.8,353.8 L954.1,355.8 L954.3,357.8 L954.5,359.8 L954.7,361.8 L954.9,363.8 L955.1,365.8 L955.3,367.8 L955.5,369.7 L955.7,371.7 L955.9,373.7 L956.2,375.7 L956.4,377.7 L956.6,379.7 L956.8,381.7 L957.0,383.7 L957.2,385.7 L957.4,387.7 L957.6,389.7 L957.7,391.7 L957.9,393.7 L958.1,395.7 L958.3,397.7 L958.5,399.6 L958.7,401.6 L958.9,403.6 L959.1,405.6 L959.3,407.6 L959.5,409.6 L959.6,411.6 L959.8,413.6 L960.0,415.6 L960.2,417.6 L960.4,419.6 L960.5,421.6 L960.7,423.5 L960.9,425.5 L961.1,427.5 L961.3,429.5 L961.4,431.5 L961.6,433.5 L961.8,435.5 L961.9,437.5 L962.1,439.5 L962.3,441.5 L962.4,443.5 L962.6,445.4 L962.8,447.4 L962.9,449.4 L963.1,451.4 L963.3,453.4 L963.4,455.4 L963.6,457.4 L963.7,459.4 L963.9,461.4 L964.1,463.4 L964.2,465.4 L964.4,467.4 L964.5,469.3 L964.7,471.3 L964.8,473.3 L965.0,475.3 L965.1,477.3 L965.3,479.3 L965.4,481.3 L965.6,483.3 L965.7,485.3 L965.9,487.3 L966.0,489.3 L966.1,491.3 L966.3,493.3 L966.4,495.2 L966.6,497.2 L966.7,499.2 L966.8,501.2 L967.0,503.2 L967.1,505.2 L967.3,507.2 L967.4,509.2 L967.5,511.2 L967.7,513.2 L967.8,515.2 L967.9,517.2 L968.1,519.2 L968.2,521.2 L968.3,523.2 L968.5,525.1 L968.6,527.1 L968.7,529.1 L968.9,531.1 L969.0,533.1 L969.1,535.1 L969.2,537.1 L969.4,539.1 L969.5,541.1 L969.6,543.1 L969.8,545.1 L969.9,547.1 L970.0,549.1 L970.1,551.1 L970.3,553.1 L970.4,555.1 L970.5,557.1 L970.7,559.1 L970.8,561.1 L970.9,563.0 L971.0,565.0 L971.2,567.0 L971.3,569.0 L971.4,571.0 L971.5,573.0 L971.7,575.0 L971.8,577.0 L971.9,579.0 L972.1,581.0 L972.2,583.0 L972.3,585.0 L972.4,587.0 L972.6,589.0 L972.7,591.0 L972.8,593.0 L973.0,595.0 L973.1,597.0 L973.2,599.0 L973.4,601.0 L973.5,603.0 L973.6,605.0 L973.8,606.9 L973.9,608.9 L974.0,610.9 L974.2,612.9 L974.3,614.9 L974.4,616.9 L974.6,618.9 L974.7,620.9 L974.8,622.9 L975.0,624.9 L975.1,626.9 L975.3,628.9 L975.4,630.9 L975.5,632.9 L975.7,634.9 L975.8,636.9 L976.0,638.9 L976.1,640.9 L976.2,642.9 L976.4,644.9 L976.5,646.9 L976.7,648.9 L976.8,650.9 L977.0,652.9 L977.1,654.8 L977.3,656.8 L977.4,658.8 L977.6,660.8 L977.7,662.8 L977.9,664.8 L978.0,666.8 L978.2,668.8 L978.4,670.8 L978.5,672.8 L978.7,674.8 L978.8,676.8 L979.0,678.8 L979.1,680.8 L979.3,682.8 L979.5,684.8 L979.6,686.8 L979.8,688.8 L979.9,690.8 L980.1,692.8 L980.3,694.8 L980.4,696.8 L980.6,698.8 L980.8,700.7 L980.9,702.7 L981.1,704.7 L981.3,706.7 L981.4,708.7 L981.6,710.7 L981.7,712.7 L981.9,714.7 L982.1,716.7 L982.2,718.7 L982.4,720.7 L982.6,722.7 L982.8,724.7 L982.9,726.7 L983.1,728.7 L983.3,730.7 L983.4,732.7 L983.6,734.7 L983.8,736.7 L983.9,738.7 L984.1,740.7 L984.3,742.7 L984.4,744.6 L984.6,746.6 L984.8,748.6 L985.0,750.6 L985.1,752.6 L985.3,754.6 L985.5,756.6 L985.6,758.6 L985.8,760.6 L986.0,762.6 L986.2,764.6 L986.3,766.6 L986.5,768.6 L986.7,770.6 L986.8,772.6 L987.0,774.6 L987.2,776.6 L987.4,778.6 L987.5,780.5 L987.7,782.5 L987.9,784.5 L988.0,786.5 L988.2,788.5 L988.4,790.5 L988.5,792.5 L988.7,794.5 L988.9,796.5 L989.0,798.5 L989.2,800.5 L989.4,802.5 L989.6,804.5 L989.7,806.5 L989.9,808.5 L990.1,810.5 L990.2,812.4 L990.4,814.4 L990.6,816.4 L990.7,818.4 L990.9,820.4 L991.0,822.4 L991.2,824.4 L991.4,826.4 L991.5,828.4 L991.7,830.4 L991.9,832.4 L992.0,834.4 L992.2,836.4 L992.3,838.4 L992.5,840.4 L992.7,842.3 L992.8,844.3 L993.0,846.3 L993.1,848.3 L993.3,850.3 L993.5,852.3 L993.6,854.3 L993.8,856.3 L993.9,858.3 L994.1,860.3 L994.2,862.3 L994.4,864.3 L994.5,866.2 L994.7,868.2 L994.8,870.2 L995.0,872.2 L995.2,874.2 L995.3,876.2 L995.5,878.2 L995.6,880.2 L995.8,882.2 L995.9,884.2 L996.1,886.2 L996.2,888.1 L996.4,890.1 L996.5,892.1 L996.7,894.1 L996.8,896.1 L997.0,898.1 L997.1,900.1 L997.3,902.1 L997.4,904.1 L997.6,906.1 L997.7,908.1 L997.9,910.0 L998.1,912.0 L998.2,914.0 L998.4,916.0 L998.5,918.0 L998.7,920.0 L998.8,922.0 L999.0,924.0 L999.2,926.0 L999.3,928.0 L999.5,929.9 L999.6,931.9 L999.8,933.9 L1000.0,935.9 L1000.1,937.9 L1000.3,939.9 L1000.5,941.9 L1000.6,943.9 L1000.8,945.9 L1001.0,947.9 L1001.1,949.8 L1001.3,951.8 L1001.5,953.8 L1001.7,955.8 L1001.8,957.8 L1002.0,959.8 L1002.2,961.8 L1002.4,963.8 L1002.6,965.8 L1002.7,967.8 L1002.9,969.7 L1003.1,971.7 L1003.3,973.7 L1003.5,975.7 L1003.7,977.7 L1003.9,979.7 L1004.1,981.7 L1004.3,983.7 L1004.5,985.7 L1004.7,987.6 L1004.9,989.6 L1005.1,991.6 L1005.3,993.6 L1005.5,995.6 L1005.7,997.6 L1005.9,999.6 L1006.1,1001.6 L1006.3,1003.6 L1006.6,1005.6 L1006.8,1007.5 L1007.0,1009.5 L1007.2,1011.5 L1007.5,1013.5 L1007.7,1015.5 L1007.9,1017.5 L1008.2,1019.5 L1008.4,1021.5 L1008.6,1023.5 L1008.9,1025.4 L1009.1,1027.4 L1009.4,1029.4 L1009.6,1031.4 L1009.9,1033.4 L1010.1,1035.4 L1010.4,1037.4 L1010.7,1039.4 L1010.9,1041.4 L1011.2,1043.4 L1011.5,1045.3 L1011.7,1047.3 L1012.0,1049.3 L1012.3,1051.3 L1012.6,1053.3 L1012.9,1055.3 L1013.2,1057.3 L1013.5,1059.3 L1013.8,1061.3 L1014.1,1063.3 L1014.4,1065.2 L1014.7,1067.2 L1015.0,1069.2 L1015.3,1071.2 L1015.6,1073.2 L1016.0,1075.2 L1016.3,1077.1 L1016.7,1079.1 L1017.0,1081.1 L1017.4,1083.1 L1017.8,1085.0 L1018.2,1087.0 L1018.6,1089.0 L1019.0,1090.9 L1019.4,1092.9 L1019.9,1094.8 L1020.3,1096.8 L1020.8,1098.7 L1021.3,1100.6 L1021.8,1102.6 L1022.3,1104.5 L1022.9,1106.4 L1023.4,1108.3 L1024.0,1110.2 L1024.6,1112.1 L1025.2,1114.0 L1025.9,1115.8 L1026.5,1117.7 L1027.2,1119.6 L1027.9,1121.4 L1028.7,1123.2 L1029.4,1125.1 L1030.2,1126.9 L1031.0,1128.7 L1031.9,1130.4 L1032.8,1132.2 L1033.8,1133.9 L1034.8,1135.5 L1035.9,1137.2 L1037.1,1138.7 L1038.4,1140.2 L1039.8,1141.6 L1041.3,1143.0 L1042.8,1144.3 L1044.4,1145.6 L1046.1,1146.8 L1047.7,1148.1 L1049.3,1149.4 L1050.8,1150.7 L1052.2,1152.1 L1053.6,1153.6 L1054.9,1155.1 L1056.1,1156.6 L1057.3,1158.2 L1058.4,1159.8 L1059.4,1161.5 L1060.4,1163.2 L1061.3,1164.9 L1062.2,1166.7 L1063.1,1168.5 L1063.9,1170.3 L1064.6,1172.1 L1065.4,1174.0 L1066.1,1175.9 L1066.7,1177.8 L1067.4,1179.8 L1068.0,1181.7 L1068.6,1183.7 L1069.2,1185.7 L1069.7,1187.6 L1070.3,1189.6 L1070.8,1191.6 L1071.4,1193.6 L1071.9,1195.6 L1072.4,1197.6 L1073.0,1199.6 L1073.5,1201.5 L1074.1,1203.5 L1074.6,1205.5 L1075.2,1207.4 L1075.8,1209.3 L1076.4,1211.2 L1077.0,1213.1 L1077.7,1215.0 L1078.3,1216.9 L1078.9,1218.8 L1079.6,1220.7 L1080.3,1222.6 L1080.9,1224.4 L1081.6,1226.3 L1082.3,1228.1 L1083.0,1230.0 L1083.7,1231.8 L1084.4,1233.7 L1085.1,1235.5 L1085.8,1237.3 L1086.6,1239.2 L1087.3,1241.0 L1088.0,1242.8 L1088.8,1244.7 L1089.5,1246.5 L1090.3,1248.3 L1091.0,1250.2 L1091.8,1252.0 L1092.5,1253.8 L1093.3,1255.6 L1094.0,1257.5 L1094.8,1259.3 L1095.6,1261.1 L1096.3,1263.0 L1097.1,1264.8 L1097.9,1266.6 L1098.7,1268.4 L1099.5,1270.3 L1100.2,1272.1 L1101.0,1273.9 L1101.8,1275.7 L1102.6,1277.5 L1103.4,1279.4 L1104.2,1281.2 L1105.0,1283.0 L1105.8,1284.8 L1106.7,1286.7 L1107.5,1288.5 L1108.3,1290.3 L1109.1,1292.1 L1109.9,1293.9 L1110.8,1295.8 L1111.6,1297.6 L1112.4,1299.4 L1113.3,1301.2 L1114.1,1303.0 L1114.9,1304.8 L1115.8,1306.7 L1116.6,1308.5 L1117.5,1310.3 L1118.3,1312.1 L1119.2,1313.9 L1120.0,1315.7 L1120.9,1317.6 L1121.7,1319.4 L1122.6,1321.2 L1123.4,1323.0 L1124.3,1324.8 L1125.2,1326.6 L1126.0,1328.4 L1126.9,1330.2 L1127.8,1332.1 L1128.7,1333.9 L1129.5,1335.7 L1130.4,1337.5 L1131.3,1339.3 L1132.2,1341.1 L1133.1,1342.9 L1133.9,1344.7 L1134.8,1346.5 L1135.7,1348.3 L1136.6,1350.1 L1137.5,1351.9 L1138.4,1353.7 L1139.4,1355.5 L1140.3,1357.3 L1141.2,1359.1 L1142.1,1360.9 L1143.1,1362.6 L1144.0,1364.4 L1144.9,1366.2 L1145.9,1368.0 L1146.8,1369.7 L1147.8,1371.5 L1148.8,1373.2 L1149.7,1375.0 L1150.7,1376.8 L1151.7,1378.5 L1152.7,1380.2 L1153.7,1382.0 L1154.7,1383.7 L1155.7,1385.4 L1156.7,1387.2 L1157.8,1388.9 L1158.8,1390.6 L1159.9,1392.3 L1160.9,1394.0 L1162.0,1395.7 L1163.1,1397.4 L1164.2,1399.0 L1165.2,1400.7 L1166.4,1402.4 L1167.5,1404.0 L1168.6,1405.7 L1169.7,1407.3 L1170.9,1409.0 L1172.0,1410.6 L1173.2,1412.2 L1174.4,1413.8 L1175.6,1415.4 L1176.8,1417.0 L1178.0,1418.6 L1179.2,1420.2 L1180.4,1421.8 L1181.7,1423.3 L1182.9,1424.9 L1184.2,1426.4 L1185.5,1428.0 L1186.8,1429.5 L1188.1,1431.0 L1189.4,1432.5 L1190.7,1434.0 L1192.1,1435.5 L1193.4,1437.0 L1194.8,1438.5 L1196.2,1439.9 L1197.5,1441.4 L1198.9,1442.8 L1200.3,1444.2 L1201.8,1445.6 L1203.2,1447.0 L1204.6,1448.4 L1206.1,1449.8 L1207.5,1451.2 L1209.0,1452.5 L1210.5,1453.9 L1212.0,1455.2 L1213.5,1456.5 L1215.0,1457.8 L1216.5,1459.1 L1218.1,1460.4 L1219.6,1461.6 L1221.2,1462.9 L1222.7,1464.1 L1224.3,1465.3 L1225.9,1466.5 L1227.5,1467.7 L1229.1,1468.9 L1230.7,1470.1 L1232.4,1471.2 L1234.0,1472.4 L1235.6,1473.5 L1237.3,1474.6 L1239.0,1475.7 L1240.6,1476.8 L1242.3,1477.8 L1244.0,1478.9 L1245.7,1479.9 L1247.4,1480.9 L1249.2,1481.9 L1250.9,1482.9 L1252.6,1483.9 L1254.4,1484.8 L1256.2,1485.7 L1257.9,1486.7 L1259.7,1487.6 L1261.5,1488.4 L1263.3,1489.3 L1265.1,1490.1 L1266.9,1491.0 L1268.7,1491.8 L1270.6,1492.6 L1272.4,1493.3 L1274.2,1494.1 L1276.1,1494.8 L1278.0,1495.5 L1279.8,1496.2 L1281.7,1496.9 L1283.6,1497.6 L1285.5,1498.2 L1287.4,1498.8 L1289.3,1499.4 L1291.2,1500.0 L1293.2,1500.6 L1295.1,1501.1 L1297.1,1501.6 L1299.0,1502.1 L1301.0,1502.6 L1302.9,1503.0 L1304.9,1503.5 L1306.9,1503.9 L1308.9,1504.4 L1310.8,1504.8 L1312.8,1505.3 L1314.8,1505.7 L1316.8,1506.2 L1318.7,1506.7 L1320.6,1507.3 L1322.6,1507.8 L1324.5,1508.4 L1326.4,1509.0 L1328.3,1509.7 L1330.2,1510.2 L1332.1,1510.8 L1334.0,1511.3 L1335.9,1511.7 L1337.9,1512.1 L1339.8,1512.3 L1341.8,1512.4 L1343.7,1512.5 L1345.7,1512.4 L1347.7,1512.4 L1349.7,1512.3 L1351.7,1512.3 L1353.7,1512.4 L1355.7,1512.6 L1357.7,1513.0 L1359.7,1513.5 L1361.6,1514.0 L1363.6,1514.7 L1365.5,1515.4 L1367.5,1516.2 L1369.4,1517.0 L1371.4,1517.7 L1373.3,1518.5 L1375.2,1519.1 L1377.1,1519.7 L1379.0,1520.2 L1380.9,1520.6 L1382.8,1520.8 L1384.6,1520.9 L1386.5,1520.8 L1388.3,1520.4 L1390.1,1519.9 L1391.9,1519.2 L1393.7,1518.4 L1395.5,1517.5 L1397.3,1516.4 L1399.0,1515.3 L1400.7,1514.1 L1402.4,1512.9 L1404.1,1511.7 L1405.8,1510.5 L1407.4,1509.3 L1409.0,1508.0 L1410.6,1506.8 L1412.2,1505.5 L1413.7,1504.3 L1415.2,1503.0 L1416.6,1501.6 L1418.1,1500.3 L1419.4,1498.9 L1420.8,1497.5 L1422.1,1496.0 L1423.4,1494.5 L1424.6,1492.9 L1425.8,1491.4 L1426.9,1489.7 L1428.1,1488.1 L1429.2,1486.4 L1430.3,1484.7 L1431.4,1483.0 L1432.4,1481.3 L1433.5,1479.5 L1434.5,1477.8 L1435.5,1476.0 L1436.6,1474.2 L1437.6,1472.5 L1438.7,1470.7 L1439.7,1469.0 L1440.8,1467.2 L1441.9,1465.5 L1443.0,1463.8 L1444.1,1462.1 L1445.2,1460.5 L1446.4,1458.8 L1447.6,1457.2 L1448.9,1455.7 L1450.2,1454.2 L1451.5,1452.7 L1452.9,1451.2 L1454.3,1449.9 L1455.8,1448.5 L1457.3,1447.3 L1458.9,1446.0 L1460.5,1444.9 L1462.2,1443.8 L1464.0,1442.9 L1465.7,1442.0 L1467.5,1441.3 L1469.4,1440.6 L1471.2,1440.2 L1473.1,1439.9 L1474.9,1439.7 L1476.8,1439.7 L1478.6,1439.9 L1480.5,1440.4 L1482.3,1441.0 L1484.1,1441.8 L1485.8,1442.8 L1487.6,1444.0 L1489.3,1445.3 L1490.9,1446.7 L1492.6,1448.2 L1494.2,1449.7 L1495.8,1451.3 L1497.3,1452.9 L1498.8,1454.4 L1500.2,1456.0 L1501.6,1457.5 L1503.0,1459.0 L1504.3,1460.4 L1505.6,1461.8 L1506.9,1463.2 L1508.2,1464.6 L1509.5,1466.0 L1510.7,1467.4 L1512.0,1468.8 L1513.3,1470.2 L1514.6,1471.7 L1515.9,1473.1 L1517.2,1474.6 L1518.5,1476.1 L1519.8,1477.6 L1521.1,1479.1 L1522.5,1480.6 L1523.8,1482.1 L1525.1,1483.6 L1526.4,1485.2 L1527.8,1486.7 L1529.1,1488.3 L1530.4,1489.8 L1531.7,1491.4 L1533.0,1492.9 L1534.3,1494.5 L1535.6,1496.0 L1536.9,1497.6 L1538.2,1499.1 L1539.5,1500.7 L1540.8,1502.2 L1542.1,1503.7 L1543.4,1505.3 L1544.7,1506.8 L1546.0,1508.2 L1547.4,1509.7 L1548.7,1511.2 L1550.1,1512.6 L1551.5,1514.0 L1552.9,1515.4 L1554.4,1516.7 L1555.9,1518.1 L1557.4,1519.4 L1559.0,1520.6 L1560.6,1521.8 L1562.2,1523.0 L1563.9,1524.1 L1565.7,1525.1 L1567.4,1526.1 L1569.2,1526.9 L1571.1,1527.5 L1573.0,1528.1 L1574.9,1528.4 L1576.8,1528.6 L1578.8,1528.6 L1580.8,1528.3 L1582.8,1527.9 L1584.8,1527.3 L1586.7,1526.6 L1588.6,1525.7 L1590.5,1524.8 L1592.2,1523.8 L1593.8,1522.7 L1595.4,1521.5 L1597.0,1520.3 L1598.4,1519.0 L1599.9,1517.6 L1601.2,1516.2 L1602.6,1514.8 L1603.9,1513.3 L1605.2,1511.8 L1606.4,1510.3 L1607.7,1508.7 L1608.9,1507.2 L1610.2,1505.6 L1611.4,1504.0 L1612.6,1502.4 L1613.9,1500.8 L1615.2,1499.2 L1616.4,1497.6 L1617.7,1496.0 L1619.0,1494.5 L1620.2,1492.8 L1621.3,1491.2 L1622.5,1489.6 L1623.6,1488.0 L1624.7,1486.4 L1625.9,1484.8 L1627.0,1483.2 L1628.3,1481.6 L1629.6,1480.1 L1630.9,1478.6 L1632.4,1477.2 L1633.9,1475.8 L1635.6,1474.5 L1637.3,1473.3 L1639.0,1472.1 L1640.8,1471.1 L1642.6,1470.1 L1644.5,1469.3 L1646.3,1468.5 L1648.2,1467.8 L1650.0,1467.3 L1651.9,1466.8 L1653.8,1466.4 L1655.6,1466.1 L1657.5,1465.9 L1659.4,1465.8 L1661.3,1465.8 L1663.2,1465.8 L1665.1,1465.9 L1667.0,1466.2 L1668.9,1466.4 L1670.8,1466.8 L1672.6,1467.2 L1674.5,1467.7 L1676.4,1468.2 L1678.2,1468.9 L1680.1,1469.6 L1681.9,1470.3 L1683.7,1471.1 L1685.5,1472.0 L1687.3,1472.9 L1689.1,1473.9 L1690.9,1474.9 L1692.6,1476.0 L1694.3,1477.1 L1696.0,1478.2 L1697.7,1479.5 L1699.3,1480.7 L1700.9,1482.0 L1702.5,1483.3 L1704.1,1484.7 L1705.6,1486.1 L1707.1,1487.5 L1708.6,1488.9 L1710.0,1490.4 L1711.4,1491.9 L1712.8,1493.5 L1714.1,1495.0 L1715.5,1496.6 L1716.7,1498.1 L1718.0,1499.7 L1719.3,1501.3 L1720.5,1503.0 L1721.7,1504.6 L1722.9,1506.2 L1724.1,1507.8 L1725.3,1509.5 L1726.5,1511.1 L1727.7,1512.7 L1728.9,1514.3 L1730.1,1515.9 L1731.3,1517.5 L1732.5,1519.1 L1733.8,1520.7 L1735.0,1522.2 L1736.3,1523.7 L1737.5,1525.2 L1738.8,1526.7 L1740.2,1528.2 L1741.5,1529.6 L1742.9,1531.0 L1744.3,1532.3 L1745.7,1533.7 L1747.2,1535.0 L1748.7,1536.3 L1750.2,1537.6 L1751.7,1538.8 L1753.2,1540.0 L1754.8,1541.3 L1756.3,1542.5 L1757.9,1543.6 L1759.5,1544.8 L1761.1,1545.9 L1762.8,1547.1 L1764.4,1548.2 L1766.1,1549.3 L1767.7,1550.4 L1769.4,1551.5 L1771.1,1552.6 L1772.8,1553.6 L1774.5,1554.7 L1776.2,1555.8 L1777.9,1556.8 L1779.6,1557.9 L1781.3,1559.0 L1783.0,1560.0 L1784.7,1561.1 L1786.4,1562.1 L1788.1,1563.2 L1789.8,1564.3 L1791.5,1565.3 L1793.3,1566.4 L1795.0,1567.4 L1796.7,1568.5 L1798.4,1569.5 L1800.1,1570.6 L1801.9,1571.6 L1803.6,1572.6 L1805.3,1573.7 L1807.1,1574.7 L1808.8,1575.7 L1810.5,1576.7 L1812.3,1577.7 L1814.0,1578.6 L1815.8,1579.6 L1817.6,1580.5 L1819.3,1581.5 L1821.1,1582.4 L1822.9,1583.3 L1824.7,1584.2 L1826.5,1585.1 L1828.3,1585.9 L1830.1,1586.8 L1831.9,1587.6 L1833.7,1588.4 L1835.6,1589.2 L1837.4,1589.9 L1839.3,1590.6 L1841.1,1591.4 L1843.0,1592.1 L1844.9,1592.7 L1846.8,1593.4 L1848.7,1594.0 L1850.5,1594.7 L1852.4,1595.3 L1854.4,1595.9 L1856.3,1596.5 L1858.2,1597.0 L1860.1,1597.6 L1862.0,1598.1 L1864.0,1598.6 L1865.9,1599.1 L1867.8,1599.6 L1869.8,1600.0 L1871.7,1600.5 L1873.7,1600.9 L1875.6,1601.4 L1877.6,1601.8 L1879.5,1602.2 L1881.5,1602.6 L1883.5,1603.0 L1885.4,1603.3 L1887.4,1603.7 L1889.3,1604.0 L1891.3,1604.4 L1893.3,1604.7 L1895.2,1605.0 L1897.2,1605.3 L1899.2,1605.6 L1901.1,1605.9 L1903.1,1606.2 L1905.1,1606.5 L1907.1,1606.7 L1909.0,1607.0 L1911.0,1607.2 L1913.0,1607.4 L1915.0,1607.6 L1916.9,1607.9 L1918.9,1608.1 L1920.9,1608.2 L1922.9,1608.4 L1924.9,1608.6 L1926.9,1608.8 L1928.8,1608.9 L1930.8,1609.1 L1932.8,1609.2 L1934.8,1609.4 L1936.8,1609.5 L1938.8,1609.6 L1940.8,1609.7 L1942.8,1609.9 L1944.8,1610.0 L1946.8,1610.1 L1948.8,1610.2 L1950.8,1610.2 L1952.7,1610.3 L1954.7,1610.4 L1956.7,1610.5 L1958.7,1610.5 L1960.7,1610.6 L1962.7,1610.6 L1964.7,1610.7 L1966.7,1610.7 L1968.7,1610.7 L1970.7,1610.8 L1972.7,1610.8 L1974.7,1610.8 L1976.7,1610.9 L1978.7,1610.9 L1980.8,1610.9 L1982.8,1610.9 L1984.8,1610.9 L1986.8,1610.9 L1988.8,1610.9 L1990.8,1610.9 L1992.8,1610.9 L1994.8,1610.9 L1996.8,1610.9 L1998.8,1610.8 L2000.8,1610.8 L2002.8,1610.8 L2004.8,1610.8 L2006.8,1610.8 L2008.8,1610.7 L2010.8,1610.7 L2012.8,1610.7 L2014.9,1610.6 L2016.9,1610.6 L2018.9,1610.6 L2020.9,1610.5 L2022.9,1610.5 L2024.9,1610.5 L2026.9,1610.5 L2028.9,1610.4 L2030.9,1610.4 L2032.9,1610.4 L2034.9,1610.3 L2036.9,1610.3 L2038.9,1610.3 L2041.0,1610.2 L2043.0,1610.2 L2045.0,1610.2 L2047.0,1610.1 L2049.0,1610.1 L2051.0,1610.1 L2053.0,1610.1 L2055.0,1610.0 L2057.0,1610.0 L2059.0,1610.0 L2061.0,1610.0 L2063.0,1610.0 L2065.0,1609.9 L2067.0,1609.9 L2069.0,1609.9 L2071.0,1609.9 L2073.0,1609.9 L2075.0,1609.9 L2077.0,1609.8 L2079.0,1609.8 L2081.0,1609.8 L2083.0,1609.8 L2085.1,1609.8 L2087.1,1609.8 L2089.1,1609.8 L2091.1,1609.8 L2093.1,1609.8 L2095.1,1609.8 L2097.1,1609.7 L2099.1,1609.7 L2101.1,1609.7 L2103.1,1609.7 L2105.1,1609.7 L2107.1,1609.7 L2109.1,1609.7 L2111.1,1609.7 L2113.1,1609.7 L2115.1,1609.7 L2117.1,1609.7 L2119.1,1609.7 L2121.1,1609.7 L2123.1,1609.7 L2125.1,1609.7 L2127.1,1609.7 L2129.1,1609.7 L2131.1,1609.7 L2133.1,1609.7 L2135.1,1609.7 L2137.1,1609.7 L2139.1,1609.7 L2141.1,1609.7 L2143.1,1609.8 L2145.1,1609.8 L2147.1,1609.8 L2149.1,1609.8 L2151.1,1609.8 L2153.1,1609.8 L2155.1,1609.8 L2157.1,1609.8 L2159.1,1609.8 L2161.1,1609.8 L2163.1,1609.8 L2165.1,1609.9 L2167.1,1609.9 L2169.1,1609.9 L2171.1,1609.9 L2173.0,1609.9 L2175.0,1609.9 L2177.0,1609.9 L2179.0,1609.9 L2181.0,1610.0 L2183.0,1610.0 L2185.0,1610.0 L2187.0,1610.0 L2189.0,1610.0 L2191.0,1610.0 L2193.0,1610.0 L2195.0,1610.1 L2197.0,1610.1 L2199.0,1610.1 L2201.0,1610.1 L2203.0,1610.1 L2205.0,1610.1 L2207.0,1610.1 L2209.0,1610.2 L2211.0,1610.2 L2213.0,1610.2 L2215.0,1610.2 L2217.0,1610.2 L2219.0,1610.2 L2221.0,1610.3 L2223.0,1610.3 L2225.0,1610.3 L2227.0,1610.3 L2229.0,1610.3 L2231.0,1610.3 L2233.0,1610.4 L2235.0,1610.4 L2237.0,1610.4 L2239.0,1610.4 L2241.0,1610.4 L2243.0,1610.4 L2245.0,1610.5 L2247.0,1610.5 L2249.0,1610.5 L2250.9,1610.5 L2252.9,1610.5 L2254.9,1610.5 L2256.9,1610.6 L2258.9,1610.6 L2260.9,1610.6 L2262.9,1610.6 L2264.9,1610.6 L2266.9,1610.6 L2268.9,1610.7 L2270.9,1610.7 L2272.9,1610.7 L2274.9,1610.7 L2276.9,1610.7 L2278.9,1610.7 L2280.9,1610.7 L2282.9,1610.8 L2284.9,1610.8 L2286.9,1610.8 L2288.9,1610.8 L2290.9,1610.8 L2292.9,1610.8 L2294.9,1610.8 L2296.9,1610.9 L2298.9,1610.9 L2300.9,1610.9 L2302.9,1610.9 L2304.9,1610.9 L2306.9,1610.9 L2308.9,1610.9 L2310.9,1610.9 L2312.9,1610.9 L2314.9,1610.9 L2316.9,1611.0 L2318.9,1611.0 L2320.9,1611.0 L2322.9,1611.0 L2324.9,1611.0 L2326.9,1611.0 L2328.9,1611.0 L2330.9,1611.0 L2332.9,1611.0 L2334.9,1611.0 L2336.9,1611.0 L2338.9,1611.0 L2340.9,1611.0 L2342.9,1611.0 L2344.9,1611.0 L2346.9,1611.0 L2348.9,1611.0 L2350.9,1611.0 L2352.9,1611.0 L2354.9,1611.0 L2356.9,1611.0 L2358.9,1611.0 L2360.9,1611.0 L2362.9,1611.0 L2364.9,1611.0 L2366.9,1611.0 L2368.9,1611.0 L2370.9,1611.0 L2372.9,1611.0 L2374.9,1611.0 L2376.9,1611.0 L2378.9,1611.0 L2380.9,1611.0 L2382.9,1610.9 L2385.0,1610.9 L2387.0,1610.9 L2389.0,1610.9 L2391.0,1610.9 L2393.0,1610.9 L2395.0,1610.9 L2397.0,1610.9 L2399.0,1610.8 L2401.0,1610.8 L2403.0,1610.8 L2405.0,1610.8" fill="none" stroke="#0000ff" stroke-width="5.6" stroke-linejoin="round"/>
<text transform="translate(428.0,1730.4) scale(1,1.064)" text-anchor="middle" font-size="68" stroke="#fff" stroke-width="0.9">300</text>
<text transform="translate(823.4,1730.4) scale(1,1.064)" text-anchor="middle" font-size="68" stroke="#fff" stroke-width="0.9">400</text>
<text transform="translate(1218.8,1730.4) scale(1,1.064)" text-anchor="middle" font-size="68" stroke="#fff" stroke-width="0.9">500</text>
<text transform="translate(1614.2,1730.4) scale(1,1.064)" text-anchor="middle" font-size="68" stroke="#fff" stroke-width="0.9">600</text>
<text transform="translate(2009.6,1730.4) scale(1,1.064)" text-anchor="middle" font-size="68" stroke="#fff" stroke-width="0.9">700</text>
<text transform="translate(2405.0,1730.4) scale(1,1.064)" text-anchor="middle" font-size="68" stroke="#fff" stroke-width="0.9">800</text>
<text transform="translate(375.4,1632.7) scale(1,1.064)" text-anchor="end" font-size="68" stroke="#fff" stroke-width="0.9">0.0</text>
<text transform="translate(348.9,1185.5) scale(1,1.057)" text-anchor="end" font-size="68" stroke="#fff" stroke-width="0.9">2.0×10</text>
<text transform="translate(349.2,1156.4) scale(1,1.03)" font-size="47" stroke="#fff" stroke-width="0.9">5</text>
<text transform="translate(348.9,733.5) scale(1,1.057)" text-anchor="end" font-size="68" stroke="#fff" stroke-width="0.9">4.0×10</text>
<text transform="translate(349.2,704.4) scale(1,1.03)" font-size="47" stroke="#fff" stroke-width="0.9">5</text>
<text transform="translate(348.9,281.6) scale(1,1.057)" text-anchor="end" font-size="68" stroke="#fff" stroke-width="0.9">6.0×10</text>
<text transform="translate(349.2,252.5) scale(1,1.03)" font-size="47" stroke="#fff" stroke-width="0.9">5</text>
<rect x="1691.3" y="289.5" width="393.3" height="252.1" fill="none" stroke="#000" stroke-width="4.2"/>
<line x1="1742" y1="372" x2="1927" y2="372" stroke="#0000ff" stroke-width="6.4" stroke-linecap="round"/>
<line x1="1743" y1="474" x2="1926" y2="474" stroke="#ff0000" stroke-width="8.4" stroke-linecap="round"/>
<text transform="translate(1949.6,399.4) scale(1,1.04)" font-size="84">T1</text>
<text transform="translate(1949.6,502.1) scale(1,1.04)" font-size="84">T2</text>
<text transform="translate(1297.7,1867) scale(1.045,1)" font-size="73" font-family="Noto Serif CJK SC, serif">λ</text>
<text x="1365" y="1865.7" font-size="82">(</text>
<text x="1391.9" y="1867" font-size="85">nm</text>
<text x="1511.8" y="1865.7" font-size="82">)</text>
<text transform="translate(105.7,1025.7) rotate(-90) scale(1.067,0.89)" font-size="86" font-family="Noto Serif CJK SC, serif">ε</text>
<text transform="translate(105.3,963.5) rotate(-90)" font-size="82">(</text>
<text transform="translate(106.5,938.2) rotate(-90) scale(1,1.035)" font-size="85">M</text>
<text transform="translate(85.7,869) rotate(-90)" font-size="86">−</text>
<text transform="translate(70.8,822) rotate(-90)" font-size="59.5">1</text>
<text transform="translate(105,787.8) rotate(-90)" font-size="84">c</text>
<text transform="translate(106,747.3) rotate(-90)" font-size="84">m</text>
<text transform="translate(86,680) rotate(-90)" font-size="86">−</text>
<text transform="translate(71,636.6) rotate(-90)" font-size="59.5">1</text>
<text transform="translate(105,597.5) rotate(-90)" font-size="82">)</text>
</g>
</svg>
</body></html>
